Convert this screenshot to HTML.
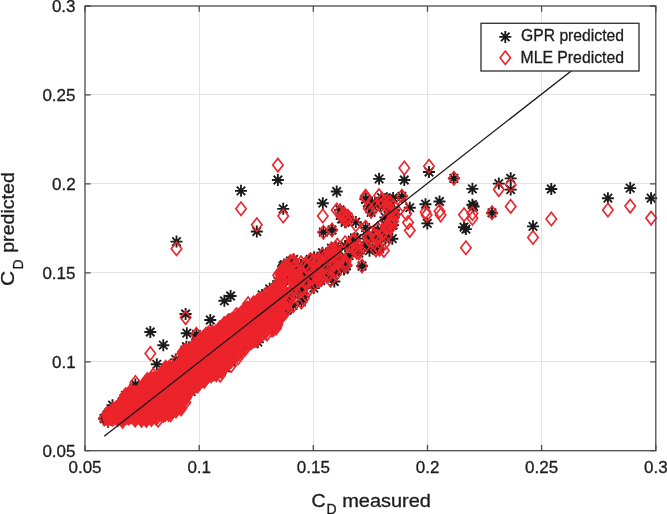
<!DOCTYPE html>
<html lang="en"><head><meta charset="utf-8"><title>CD predicted vs CD measured</title><style>html,body{margin:0;padding:0;background:#fff}body{width:667px;height:514px;overflow:hidden}</style></head><body>
<svg width="667" height="514" viewBox="0 0 667 514" style="display:block">
<defs>
<g id="s"><path d="M-6.0 0H6.0M0 -6.0V6.0M-4.24 -4.24L4.24 4.24M-4.24 4.24L4.24 -4.24" fill="none" stroke="#1a1a1a" stroke-width="1.85"/></g>
<path id="d" d="M0 -6.7L5.2 0L0 6.7L-5.2 0Z" fill="none" stroke="#ec242b" stroke-width="1.65" stroke-linejoin="miter"/>
<path id="e" d="M0 -6.7L5.2 0L0 6.7L-5.2 0Z" fill="#ec242b" stroke="#ec242b" stroke-width="1.5" stroke-linejoin="miter"/>
</defs>
<rect width="667" height="514" fill="#fff"/>
<path d="M199.5 6.0V450.7" stroke="#e3e3e3" stroke-width="1"/>
<path d="M85.0 361.5H655.8" stroke="#e3e3e3" stroke-width="1"/>
<path d="M313.5 6.0V450.7" stroke="#e3e3e3" stroke-width="1"/>
<path d="M85.0 272.5H655.8" stroke="#e3e3e3" stroke-width="1"/>
<path d="M427.5 6.0V450.7" stroke="#e3e3e3" stroke-width="1"/>
<path d="M85.0 183.5H655.8" stroke="#e3e3e3" stroke-width="1"/>
<path d="M541.5 6.0V450.7" stroke="#e3e3e3" stroke-width="1"/>
<path d="M85.0 94.5H655.8" stroke="#e3e3e3" stroke-width="1"/>
<g>
<use href="#s" x="156.1" y="386.2"/>
<use href="#s" x="193.9" y="363.1"/>
<use href="#s" x="114.7" y="415.2"/>
<use href="#s" x="116.2" y="410.7"/>
<use href="#s" x="173.7" y="400.3"/>
<use href="#s" x="211.0" y="369.2"/>
<use href="#s" x="201.5" y="356.6"/>
<use href="#s" x="255.7" y="313.8"/>
<use href="#s" x="127.0" y="399.2"/>
<use href="#s" x="132.6" y="409.5"/>
<use href="#s" x="213.1" y="348.5"/>
<use href="#s" x="114.9" y="411.8"/>
<use href="#s" x="221.0" y="345.7"/>
<use href="#s" x="178.8" y="378.9"/>
<use href="#s" x="243.1" y="335.5"/>
<use href="#s" x="191.9" y="381.4"/>
<use href="#s" x="230.4" y="335.0"/>
<use href="#s" x="172.6" y="397.8"/>
<use href="#s" x="128.2" y="408.6"/>
<use href="#s" x="237.3" y="338.2"/>
<use href="#s" x="259.0" y="312.0"/>
<use href="#s" x="202.1" y="355.7"/>
<use href="#s" x="252.0" y="333.0"/>
<use href="#s" x="115.0" y="414.9"/>
<use href="#s" x="214.7" y="367.9"/>
<use href="#s" x="166.9" y="396.4"/>
<use href="#s" x="110.2" y="415.5"/>
<use href="#s" x="114.8" y="415.6"/>
<use href="#s" x="124.7" y="401.6"/>
<use href="#s" x="117.7" y="413.8"/>
<use href="#s" x="196.4" y="377.9"/>
<use href="#s" x="148.5" y="393.9"/>
<use href="#s" x="162.1" y="407.0"/>
<use href="#s" x="131.9" y="400.7"/>
<use href="#s" x="141.0" y="402.6"/>
<use href="#s" x="108.3" y="415.0"/>
<use href="#s" x="164.0" y="397.7"/>
<use href="#s" x="190.1" y="372.7"/>
<use href="#s" x="220.2" y="337.9"/>
<use href="#s" x="258.8" y="324.7"/>
<use href="#s" x="168.0" y="389.5"/>
<use href="#s" x="115.2" y="412.2"/>
<use href="#s" x="137.0" y="397.7"/>
<use href="#s" x="108.0" y="415.4"/>
<use href="#s" x="120.7" y="412.5"/>
<use href="#s" x="208.5" y="344.1"/>
<use href="#s" x="144.1" y="398.3"/>
<use href="#s" x="253.8" y="335.9"/>
<use href="#s" x="181.1" y="381.2"/>
<use href="#s" x="159.4" y="388.7"/>
<use href="#s" x="249.8" y="317.4"/>
<use href="#s" x="192.5" y="358.9"/>
<use href="#s" x="195.2" y="348.7"/>
<use href="#s" x="256.6" y="324.1"/>
<use href="#s" x="145.6" y="398.9"/>
<use href="#s" x="193.3" y="378.0"/>
<use href="#s" x="157.1" y="389.7"/>
<use href="#s" x="254.5" y="325.4"/>
<use href="#s" x="247.8" y="331.6"/>
<use href="#s" x="161.6" y="381.9"/>
<use href="#s" x="110.9" y="414.2"/>
<use href="#s" x="275.2" y="307.2"/>
<use href="#s" x="271.3" y="324.5"/>
<use href="#s" x="138.9" y="398.6"/>
<use href="#s" x="135.1" y="397.1"/>
<use href="#s" x="252.1" y="319.3"/>
<use href="#s" x="215.8" y="362.7"/>
<use href="#s" x="265.9" y="322.7"/>
<use href="#s" x="234.5" y="337.9"/>
<use href="#s" x="157.6" y="408.1"/>
<use href="#s" x="278.3" y="293.4"/>
<use href="#s" x="229.6" y="333.2"/>
<use href="#s" x="124.4" y="405.1"/>
<use href="#s" x="127.3" y="411.0"/>
<use href="#s" x="280.0" y="299.8"/>
<use href="#s" x="125.0" y="401.4"/>
<use href="#s" x="278.1" y="301.8"/>
<use href="#s" x="175.4" y="399.3"/>
<use href="#s" x="249.3" y="315.5"/>
<use href="#s" x="142.2" y="406.5"/>
<use href="#s" x="145.3" y="401.4"/>
<use href="#s" x="161.3" y="395.8"/>
<use href="#s" x="202.7" y="368.4"/>
<use href="#s" x="187.6" y="374.4"/>
<use href="#s" x="191.6" y="354.4"/>
<use href="#s" x="108.3" y="417.0"/>
<use href="#s" x="131.3" y="405.1"/>
<use href="#s" x="156.5" y="395.7"/>
<use href="#s" x="197.5" y="374.1"/>
<use href="#s" x="143.5" y="398.8"/>
<use href="#s" x="238.7" y="332.5"/>
<use href="#s" x="266.4" y="311.4"/>
<use href="#s" x="208.2" y="353.1"/>
<use href="#s" x="178.7" y="385.1"/>
<use href="#s" x="183.3" y="394.3"/>
<use href="#s" x="272.3" y="299.2"/>
<use href="#s" x="198.3" y="377.3"/>
<use href="#s" x="123.6" y="407.4"/>
<use href="#s" x="116.6" y="413.0"/>
<use href="#s" x="241.0" y="345.1"/>
<use href="#s" x="128.5" y="409.8"/>
<use href="#s" x="260.5" y="329.3"/>
<use href="#s" x="138.8" y="411.7"/>
<use href="#s" x="282.0" y="304.3"/>
<use href="#s" x="129.6" y="403.7"/>
<use href="#s" x="135.0" y="401.4"/>
<use href="#s" x="229.0" y="325.3"/>
<use href="#s" x="109.7" y="414.3"/>
<use href="#s" x="210.3" y="358.6"/>
<use href="#s" x="241.9" y="346.7"/>
<use href="#s" x="121.1" y="410.5"/>
<use href="#s" x="147.1" y="391.0"/>
<use href="#s" x="173.3" y="403.1"/>
<use href="#s" x="127.8" y="413.0"/>
<use href="#s" x="200.3" y="367.3"/>
<use href="#s" x="222.5" y="344.6"/>
<use href="#s" x="116.6" y="414.0"/>
<use href="#s" x="118.2" y="413.0"/>
<use href="#s" x="115.8" y="414.1"/>
<use href="#s" x="197.1" y="377.7"/>
<use href="#s" x="146.7" y="389.6"/>
<use href="#s" x="121.8" y="405.8"/>
<use href="#s" x="113.7" y="412.2"/>
<use href="#s" x="236.3" y="331.5"/>
<use href="#s" x="187.3" y="361.6"/>
<use href="#s" x="143.8" y="391.5"/>
<use href="#s" x="231.2" y="341.9"/>
<use href="#s" x="270.8" y="301.0"/>
<use href="#s" x="247.9" y="319.8"/>
<use href="#s" x="168.1" y="391.5"/>
<use href="#s" x="222.4" y="360.1"/>
<use href="#s" x="226.1" y="349.0"/>
<use href="#s" x="170.2" y="386.0"/>
<use href="#s" x="116.4" y="414.7"/>
<use href="#s" x="144.7" y="396.1"/>
<use href="#s" x="258.1" y="324.6"/>
<use href="#s" x="149.0" y="391.1"/>
<use href="#s" x="129.0" y="407.0"/>
<use href="#s" x="145.9" y="414.2"/>
<use href="#s" x="142.8" y="413.2"/>
<use href="#s" x="153.7" y="394.9"/>
<use href="#s" x="182.7" y="379.2"/>
<use href="#s" x="135.8" y="406.0"/>
<use href="#s" x="119.0" y="410.9"/>
<use href="#s" x="112.6" y="412.2"/>
<use href="#s" x="203.1" y="360.0"/>
<use href="#s" x="234.5" y="341.0"/>
<use href="#s" x="167.5" y="382.6"/>
<use href="#s" x="280.9" y="282.5"/>
<use href="#s" x="112.8" y="413.6"/>
<use href="#s" x="262.3" y="319.5"/>
<use href="#s" x="126.2" y="404.7"/>
<use href="#s" x="188.1" y="382.4"/>
<use href="#s" x="202.8" y="368.2"/>
<use href="#s" x="221.5" y="354.1"/>
<use href="#s" x="125.3" y="405.6"/>
<use href="#s" x="121.2" y="412.3"/>
<use href="#s" x="210.7" y="359.2"/>
<use href="#s" x="185.4" y="357.9"/>
<use href="#s" x="187.9" y="370.2"/>
<use href="#s" x="217.0" y="338.1"/>
<use href="#s" x="116.9" y="409.9"/>
<use href="#s" x="230.4" y="331.7"/>
<use href="#s" x="186.2" y="365.5"/>
<use href="#s" x="183.5" y="385.3"/>
<use href="#s" x="213.9" y="337.6"/>
<use href="#s" x="127.5" y="402.4"/>
<use href="#s" x="199.8" y="344.2"/>
<use href="#s" x="115.0" y="411.1"/>
<use href="#s" x="220.1" y="341.0"/>
<use href="#s" x="190.3" y="368.0"/>
<use href="#s" x="262.7" y="308.5"/>
<use href="#s" x="279.6" y="312.8"/>
<use href="#s" x="248.1" y="337.7"/>
<use href="#s" x="178.2" y="377.7"/>
<use href="#s" x="137.4" y="409.4"/>
<use href="#s" x="126.6" y="408.2"/>
<use href="#s" x="248.1" y="324.4"/>
<use href="#s" x="261.3" y="322.7"/>
<use href="#s" x="184.8" y="361.8"/>
<use href="#s" x="108.3" y="414.6"/>
<use href="#s" x="126.5" y="404.7"/>
<use href="#s" x="154.8" y="410.0"/>
<use href="#s" x="251.8" y="311.3"/>
<use href="#s" x="269.2" y="318.2"/>
<use href="#s" x="164.5" y="388.9"/>
<use href="#s" x="283.8" y="292.1"/>
<use href="#s" x="147.9" y="388.7"/>
<use href="#s" x="120.7" y="413.6"/>
<use href="#s" x="143.6" y="400.7"/>
<use href="#s" x="189.3" y="358.5"/>
<use href="#s" x="260.8" y="328.2"/>
<use href="#s" x="211.6" y="368.7"/>
<use href="#s" x="228.5" y="327.0"/>
<use href="#s" x="231.0" y="338.6"/>
<use href="#s" x="149.8" y="383.6"/>
<use href="#s" x="269.3" y="300.2"/>
<use href="#s" x="151.7" y="404.6"/>
<use href="#s" x="279.2" y="288.2"/>
<use href="#s" x="197.9" y="359.0"/>
<use href="#s" x="130.5" y="400.9"/>
<use href="#s" x="186.8" y="366.7"/>
<use href="#s" x="265.2" y="326.8"/>
<use href="#s" x="134.4" y="397.8"/>
<use href="#s" x="159.2" y="383.1"/>
<use href="#s" x="200.1" y="374.1"/>
<use href="#s" x="234.4" y="333.5"/>
<use href="#s" x="165.3" y="388.3"/>
<use href="#s" x="115.2" y="412.9"/>
<use href="#s" x="187.9" y="375.3"/>
<use href="#s" x="256.5" y="311.1"/>
<use href="#s" x="169.3" y="390.1"/>
<use href="#s" x="274.7" y="317.5"/>
<use href="#s" x="111.4" y="415.5"/>
<use href="#s" x="263.1" y="315.4"/>
<use href="#s" x="167.9" y="405.9"/>
<use href="#s" x="249.2" y="335.0"/>
<use href="#s" x="121.8" y="405.8"/>
<use href="#s" x="191.4" y="376.6"/>
<use href="#s" x="214.7" y="359.5"/>
<use href="#s" x="179.6" y="387.5"/>
<use href="#s" x="140.9" y="413.3"/>
<use href="#s" x="214.4" y="347.2"/>
<use href="#s" x="212.6" y="360.3"/>
<use href="#s" x="122.2" y="402.4"/>
<use href="#s" x="167.3" y="382.0"/>
<use href="#s" x="206.0" y="339.8"/>
<use href="#s" x="275.7" y="312.1"/>
<use href="#s" x="260.7" y="316.6"/>
<use href="#s" x="276.1" y="313.1"/>
<use href="#s" x="153.3" y="381.6"/>
<use href="#s" x="172.9" y="381.1"/>
<use href="#s" x="218.5" y="363.2"/>
<use href="#s" x="158.6" y="393.9"/>
<use href="#s" x="221.4" y="340.0"/>
<use href="#s" x="188.2" y="359.7"/>
<use href="#s" x="277.9" y="295.1"/>
<use href="#s" x="139.1" y="408.4"/>
<use href="#s" x="151.2" y="409.3"/>
<use href="#s" x="139.4" y="402.8"/>
<use href="#s" x="218.1" y="365.0"/>
<use href="#s" x="137.7" y="414.6"/>
<use href="#s" x="126.6" y="400.5"/>
<use href="#s" x="263.6" y="326.5"/>
<use href="#s" x="231.1" y="354.7"/>
<use href="#s" x="133.4" y="412.6"/>
<use href="#s" x="233.7" y="324.3"/>
<use href="#s" x="164.8" y="386.2"/>
<use href="#s" x="130.8" y="397.0"/>
<use href="#s" x="275.0" y="296.8"/>
<use href="#s" x="276.8" y="293.1"/>
<use href="#s" x="248.5" y="324.4"/>
<use href="#s" x="113.5" y="411.6"/>
<use href="#s" x="134.5" y="405.0"/>
<use href="#s" x="263.3" y="301.3"/>
<use href="#s" x="237.7" y="323.6"/>
<use href="#s" x="111.7" y="414.2"/>
<use href="#s" x="233.9" y="348.0"/>
<use href="#s" x="158.7" y="390.9"/>
<use href="#s" x="145.7" y="405.7"/>
<use href="#s" x="154.9" y="393.3"/>
<use href="#s" x="267.2" y="316.8"/>
<use href="#s" x="272.6" y="295.5"/>
<use href="#s" x="275.3" y="321.8"/>
<use href="#s" x="167.0" y="381.8"/>
<use href="#s" x="269.5" y="303.6"/>
<use href="#s" x="244.7" y="335.4"/>
<use href="#s" x="207.2" y="347.7"/>
<use href="#s" x="155.4" y="393.3"/>
<use href="#s" x="135.2" y="408.9"/>
<use href="#s" x="143.3" y="394.7"/>
<use href="#s" x="156.5" y="412.1"/>
<use href="#s" x="260.6" y="330.4"/>
<use href="#s" x="119.9" y="412.0"/>
<use href="#s" x="226.7" y="340.5"/>
<use href="#s" x="209.6" y="361.8"/>
<use href="#s" x="234.0" y="346.7"/>
<use href="#s" x="252.2" y="315.4"/>
<use href="#s" x="199.6" y="357.1"/>
<use href="#s" x="143.3" y="396.0"/>
<use href="#s" x="128.4" y="412.1"/>
<use href="#s" x="168.7" y="407.3"/>
<use href="#s" x="188.6" y="363.5"/>
<use href="#s" x="282.2" y="278.0"/>
<use href="#s" x="182.7" y="393.0"/>
<use href="#s" x="112.4" y="410.9"/>
<use href="#s" x="123.3" y="406.7"/>
<use href="#s" x="269.9" y="307.2"/>
<use href="#s" x="257.2" y="317.3"/>
<use href="#s" x="273.1" y="299.7"/>
<use href="#s" x="205.1" y="360.8"/>
<use href="#s" x="126.6" y="403.2"/>
<use href="#s" x="144.5" y="403.7"/>
<use href="#s" x="109.0" y="414.3"/>
<use href="#s" x="220.6" y="339.1"/>
<use href="#s" x="243.2" y="331.7"/>
<use href="#s" x="115.4" y="409.5"/>
<use href="#s" x="213.2" y="341.4"/>
<use href="#s" x="130.0" y="408.5"/>
<use href="#s" x="153.4" y="411.3"/>
<use href="#s" x="154.2" y="398.5"/>
<use href="#s" x="256.8" y="334.4"/>
<use href="#s" x="163.0" y="384.2"/>
<use href="#s" x="108.5" y="415.9"/>
<use href="#s" x="173.6" y="396.8"/>
<use href="#s" x="180.2" y="372.1"/>
<use href="#s" x="109.4" y="413.6"/>
<use href="#s" x="118.9" y="410.3"/>
<use href="#s" x="164.2" y="394.1"/>
<use href="#s" x="191.2" y="382.5"/>
<use href="#s" x="121.7" y="411.4"/>
<use href="#s" x="135.2" y="394.3"/>
<use href="#s" x="272.5" y="321.7"/>
<use href="#s" x="269.1" y="308.7"/>
<use href="#s" x="264.8" y="318.6"/>
<use href="#s" x="241.4" y="322.8"/>
<use href="#s" x="170.2" y="402.6"/>
<use href="#s" x="138.6" y="401.5"/>
<use href="#s" x="190.6" y="367.1"/>
<use href="#s" x="229.6" y="352.4"/>
<use href="#s" x="112.5" y="414.8"/>
<use href="#s" x="251.7" y="310.9"/>
<use href="#s" x="205.7" y="357.1"/>
<use href="#s" x="172.9" y="391.0"/>
<use href="#s" x="173.9" y="392.4"/>
<use href="#s" x="110.3" y="416.2"/>
<use href="#s" x="185.4" y="365.7"/>
<use href="#s" x="179.8" y="369.1"/>
<use href="#s" x="182.4" y="365.8"/>
<use href="#s" x="119.3" y="412.3"/>
<use href="#s" x="189.2" y="356.3"/>
<use href="#s" x="231.2" y="346.9"/>
<use href="#s" x="189.4" y="355.6"/>
<use href="#s" x="274.1" y="296.8"/>
<use href="#s" x="255.4" y="333.9"/>
<use href="#s" x="134.7" y="411.1"/>
<use href="#s" x="185.8" y="391.1"/>
<use href="#s" x="241.9" y="343.4"/>
<use href="#s" x="115.7" y="412.3"/>
<use href="#s" x="263.2" y="309.2"/>
<use href="#s" x="247.2" y="311.6"/>
<use href="#s" x="137.0" y="399.9"/>
<use href="#s" x="188.4" y="366.4"/>
<use href="#s" x="129.6" y="414.1"/>
<use href="#s" x="220.9" y="361.9"/>
<use href="#s" x="122.6" y="412.3"/>
<use href="#s" x="212.6" y="350.1"/>
<use href="#s" x="202.1" y="369.8"/>
<use href="#s" x="121.1" y="415.0"/>
<use href="#s" x="243.7" y="320.9"/>
<use href="#s" x="282.1" y="293.4"/>
<use href="#s" x="176.9" y="377.4"/>
<use href="#s" x="233.2" y="326.4"/>
<use href="#s" x="213.2" y="367.1"/>
<use href="#s" x="203.2" y="363.2"/>
<use href="#s" x="111.6" y="413.7"/>
<use href="#s" x="208.8" y="349.5"/>
<use href="#s" x="125.1" y="402.9"/>
<use href="#s" x="215.8" y="338.9"/>
<use href="#s" x="121.4" y="408.8"/>
<use href="#s" x="139.5" y="405.1"/>
<use href="#s" x="210.3" y="352.9"/>
<use href="#s" x="125.6" y="414.9"/>
<use href="#s" x="119.9" y="413.6"/>
<use href="#s" x="258.2" y="325.2"/>
<use href="#s" x="109.0" y="416.7"/>
<use href="#s" x="198.8" y="356.6"/>
<use href="#s" x="271.3" y="314.9"/>
<use href="#s" x="143.5" y="413.9"/>
<use href="#s" x="170.4" y="381.9"/>
<use href="#s" x="114.7" y="417.0"/>
<use href="#s" x="272.1" y="299.3"/>
<use href="#s" x="135.6" y="404.6"/>
<use href="#s" x="246.8" y="316.0"/>
<use href="#s" x="153.7" y="394.8"/>
<use href="#s" x="240.8" y="339.9"/>
<use href="#s" x="108.5" y="416.7"/>
<use href="#s" x="232.8" y="335.6"/>
<use href="#s" x="139.8" y="396.7"/>
<use href="#s" x="158.1" y="404.3"/>
<use href="#s" x="223.8" y="355.1"/>
<use href="#s" x="197.2" y="361.1"/>
<use href="#s" x="241.9" y="331.6"/>
<use href="#s" x="277.0" y="296.7"/>
<use href="#s" x="259.9" y="304.1"/>
<use href="#s" x="233.2" y="351.5"/>
<use href="#s" x="233.7" y="334.1"/>
<use href="#s" x="142.0" y="411.4"/>
<use href="#s" x="211.6" y="357.7"/>
<use href="#s" x="181.8" y="389.3"/>
<use href="#s" x="224.3" y="352.9"/>
<use href="#s" x="200.3" y="355.3"/>
<use href="#s" x="137.6" y="409.6"/>
<use href="#s" x="127.0" y="400.1"/>
<use href="#s" x="121.4" y="414.9"/>
<use href="#s" x="111.0" y="414.2"/>
<use href="#s" x="223.4" y="348.6"/>
<use href="#s" x="115.7" y="411.4"/>
<use href="#s" x="162.9" y="405.1"/>
<use href="#s" x="115.7" y="412.5"/>
<use href="#s" x="266.8" y="325.9"/>
<use href="#s" x="122.2" y="404.6"/>
<use href="#s" x="253.5" y="328.4"/>
<use href="#s" x="211.7" y="344.7"/>
<use href="#s" x="120.4" y="407.0"/>
<use href="#s" x="155.3" y="394.1"/>
<use href="#s" x="110.1" y="414.1"/>
<use href="#s" x="163.8" y="390.1"/>
<use href="#s" x="276.7" y="305.6"/>
<use href="#s" x="111.2" y="413.0"/>
<use href="#s" x="175.8" y="395.0"/>
<use href="#s" x="194.3" y="360.9"/>
<use href="#s" x="256.4" y="308.1"/>
<use href="#s" x="108.1" y="414.3"/>
<use href="#s" x="236.8" y="351.2"/>
<use href="#s" x="185.8" y="384.9"/>
<use href="#s" x="133.2" y="403.6"/>
<use href="#s" x="145.5" y="414.4"/>
<use href="#s" x="149.3" y="390.0"/>
<use href="#s" x="121.9" y="410.1"/>
<use href="#s" x="117.8" y="413.7"/>
<use href="#s" x="211.1" y="346.7"/>
<use href="#s" x="169.6" y="387.6"/>
<use href="#s" x="261.6" y="303.6"/>
<use href="#s" x="136.6" y="401.5"/>
<use href="#s" x="165.7" y="404.1"/>
<use href="#s" x="141.1" y="400.6"/>
<use href="#s" x="235.0" y="340.6"/>
<use href="#s" x="160.4" y="391.4"/>
<use href="#s" x="217.5" y="360.6"/>
<use href="#s" x="130.9" y="405.1"/>
<use href="#s" x="124.3" y="405.8"/>
<use href="#s" x="261.0" y="310.4"/>
<use href="#s" x="225.4" y="354.8"/>
<use href="#s" x="128.6" y="400.5"/>
<use href="#s" x="191.4" y="360.8"/>
<use href="#s" x="156.9" y="389.6"/>
<use href="#s" x="120.7" y="415.4"/>
<use href="#s" x="120.7" y="412.3"/>
<use href="#s" x="231.2" y="337.8"/>
<use href="#s" x="135.0" y="408.2"/>
<use href="#s" x="167.3" y="376.5"/>
<use href="#s" x="169.2" y="400.2"/>
<use href="#s" x="211.9" y="350.7"/>
<use href="#s" x="126.6" y="406.7"/>
<use href="#s" x="265.5" y="314.1"/>
<use href="#s" x="200.9" y="366.9"/>
<use href="#s" x="229.1" y="351.9"/>
<use href="#s" x="239.1" y="341.7"/>
<use href="#s" x="213.6" y="349.5"/>
<use href="#s" x="154.3" y="402.6"/>
<use href="#s" x="240.7" y="340.0"/>
<use href="#s" x="211.4" y="344.3"/>
<use href="#s" x="209.9" y="352.2"/>
<use href="#s" x="220.0" y="363.2"/>
<use href="#s" x="239.9" y="332.6"/>
<use href="#s" x="185.5" y="393.6"/>
<use href="#s" x="129.5" y="411.6"/>
<use href="#s" x="272.0" y="311.3"/>
<use href="#s" x="194.8" y="374.2"/>
<use href="#s" x="189.5" y="375.3"/>
<use href="#s" x="171.2" y="403.4"/>
<use href="#s" x="137.3" y="405.9"/>
<use href="#s" x="123.7" y="417.5"/>
<use href="#s" x="161.6" y="380.7"/>
<use href="#s" x="109.2" y="416.8"/>
<use href="#s" x="173.0" y="395.0"/>
<use href="#s" x="139.6" y="410.0"/>
<use href="#s" x="271.9" y="310.5"/>
<use href="#s" x="167.9" y="384.1"/>
<use href="#s" x="124.7" y="413.2"/>
<use href="#s" x="181.7" y="380.7"/>
<use href="#s" x="139.8" y="412.2"/>
<use href="#s" x="247.8" y="335.1"/>
<use href="#s" x="181.5" y="372.4"/>
<use href="#s" x="250.8" y="318.5"/>
<use href="#s" x="254.1" y="313.3"/>
<use href="#s" x="174.0" y="379.1"/>
<use href="#s" x="108.2" y="416.3"/>
<use href="#s" x="152.4" y="398.2"/>
<use href="#s" x="174.4" y="392.1"/>
<use href="#s" x="269.7" y="319.4"/>
<use href="#s" x="114.5" y="417.5"/>
<use href="#s" x="126.4" y="411.4"/>
<use href="#s" x="212.1" y="341.7"/>
<use href="#s" x="216.4" y="344.3"/>
<use href="#s" x="120.7" y="407.4"/>
<use href="#s" x="160.0" y="387.2"/>
<use href="#s" x="264.7" y="324.2"/>
<use href="#s" x="207.4" y="367.5"/>
<use href="#s" x="218.8" y="362.8"/>
<use href="#s" x="135.2" y="405.6"/>
<use href="#s" x="193.0" y="372.1"/>
<use href="#s" x="197.4" y="357.8"/>
<use href="#s" x="141.2" y="395.9"/>
<use href="#s" x="181.3" y="367.9"/>
<use href="#s" x="185.7" y="371.4"/>
<use href="#s" x="108.5" y="416.0"/>
<use href="#s" x="181.5" y="381.6"/>
<use href="#s" x="165.0" y="387.7"/>
<use href="#s" x="276.1" y="291.4"/>
<use href="#s" x="110.9" y="413.8"/>
<use href="#s" x="221.4" y="359.2"/>
<use href="#s" x="189.3" y="373.7"/>
<use href="#s" x="263.4" y="303.3"/>
<use href="#s" x="158.7" y="405.1"/>
<use href="#s" x="163.4" y="390.3"/>
<use href="#s" x="137.4" y="402.7"/>
<use href="#s" x="173.3" y="391.3"/>
<use href="#s" x="249.6" y="319.7"/>
<use href="#s" x="188.0" y="360.2"/>
<use href="#s" x="216.1" y="360.3"/>
<use href="#s" x="157.3" y="390.3"/>
<use href="#s" x="212.4" y="364.2"/>
<use href="#s" x="112.4" y="416.9"/>
<use href="#s" x="113.6" y="411.9"/>
<use href="#s" x="108.5" y="416.7"/>
<use href="#s" x="216.8" y="359.0"/>
<use href="#s" x="265.9" y="315.6"/>
<use href="#s" x="224.1" y="345.7"/>
<use href="#s" x="221.1" y="339.1"/>
<use href="#s" x="236.9" y="323.0"/>
<use href="#s" x="132.7" y="397.8"/>
<use href="#s" x="216.3" y="344.4"/>
<use href="#s" x="248.6" y="331.1"/>
<use href="#s" x="152.4" y="395.0"/>
<use href="#s" x="155.2" y="393.1"/>
<use href="#s" x="114.2" y="411.4"/>
<use href="#s" x="112.3" y="413.8"/>
<use href="#s" x="267.6" y="309.6"/>
<use href="#s" x="109.3" y="412.2"/>
<use href="#s" x="280.1" y="292.7"/>
<use href="#s" x="171.6" y="375.8"/>
<use href="#s" x="128.1" y="397.3"/>
<use href="#s" x="108.4" y="419.1"/>
<use href="#s" x="118.8" y="417.7"/>
<use href="#s" x="124.7" y="400.1"/>
<use href="#s" x="231.2" y="330.2"/>
<use href="#s" x="113.6" y="414.6"/>
<use href="#s" x="230.5" y="325.7"/>
<use href="#s" x="211.2" y="357.2"/>
<use href="#s" x="144.4" y="414.1"/>
<use href="#s" x="228.1" y="328.7"/>
<use href="#s" x="247.6" y="313.1"/>
<use href="#s" x="154.0" y="405.7"/>
<use href="#s" x="184.8" y="362.4"/>
<use href="#s" x="163.7" y="393.8"/>
<use href="#s" x="127.1" y="412.9"/>
<use href="#s" x="162.9" y="397.3"/>
<use href="#s" x="166.9" y="400.3"/>
<use href="#s" x="272.9" y="315.4"/>
<use href="#s" x="115.0" y="415.6"/>
<use href="#s" x="225.4" y="352.1"/>
<use href="#s" x="279.4" y="309.6"/>
<use href="#s" x="206.0" y="347.2"/>
<use href="#s" x="165.3" y="400.1"/>
<use href="#s" x="206.1" y="369.4"/>
<use href="#s" x="108.1" y="414.1"/>
<use href="#s" x="173.3" y="393.1"/>
<use href="#s" x="112.6" y="412.9"/>
<use href="#s" x="246.5" y="334.6"/>
<use href="#s" x="254.2" y="329.1"/>
<use href="#s" x="221.8" y="359.9"/>
<use href="#s" x="197.2" y="373.8"/>
<use href="#s" x="135.7" y="410.4"/>
<use href="#s" x="207.1" y="361.0"/>
<use href="#s" x="181.0" y="370.6"/>
<use href="#s" x="242.5" y="331.7"/>
<use href="#s" x="118.7" y="414.7"/>
<use href="#s" x="202.0" y="370.6"/>
<use href="#s" x="261.0" y="315.6"/>
<use href="#s" x="133.9" y="399.9"/>
<use href="#s" x="132.6" y="407.8"/>
<use href="#s" x="169.8" y="392.6"/>
<use href="#s" x="127.7" y="400.2"/>
<use href="#s" x="121.3" y="411.9"/>
<use href="#s" x="241.7" y="320.2"/>
<use href="#s" x="190.9" y="354.8"/>
<use href="#s" x="111.6" y="417.8"/>
<use href="#s" x="199.7" y="352.3"/>
<use href="#s" x="240.1" y="333.9"/>
<use href="#s" x="247.9" y="336.7"/>
<use href="#s" x="144.4" y="391.2"/>
<use href="#s" x="118.1" y="409.4"/>
<use href="#s" x="197.9" y="371.5"/>
<use href="#s" x="265.9" y="304.0"/>
<use href="#s" x="205.4" y="355.9"/>
<use href="#s" x="144.9" y="405.7"/>
<use href="#s" x="213.5" y="366.3"/>
<use href="#s" x="178.0" y="372.1"/>
<use href="#s" x="277.1" y="319.1"/>
<use href="#s" x="144.7" y="398.5"/>
<use href="#s" x="264.5" y="326.0"/>
<use href="#s" x="241.5" y="337.5"/>
<use href="#s" x="214.6" y="368.0"/>
<use href="#s" x="235.4" y="349.3"/>
<use href="#s" x="220.4" y="340.9"/>
<use href="#s" x="121.2" y="407.1"/>
<use href="#s" x="144.9" y="391.4"/>
<use href="#s" x="141.8" y="396.0"/>
<use href="#s" x="220.5" y="334.2"/>
<use href="#s" x="111.8" y="415.4"/>
<use href="#s" x="138.9" y="414.8"/>
<use href="#s" x="126.3" y="403.8"/>
<use href="#s" x="120.0" y="416.6"/>
<use href="#s" x="178.7" y="376.9"/>
<use href="#s" x="248.7" y="322.8"/>
<use href="#s" x="139.1" y="395.1"/>
<use href="#s" x="227.4" y="344.8"/>
<use href="#s" x="146.4" y="400.5"/>
<use href="#s" x="128.7" y="403.2"/>
<use href="#s" x="130.6" y="404.7"/>
<use href="#s" x="155.1" y="412.6"/>
<use href="#s" x="114.5" y="418.4"/>
<use href="#s" x="218.7" y="340.3"/>
<use href="#s" x="145.0" y="394.2"/>
<use href="#s" x="163.1" y="412.6"/>
<use href="#s" x="120.1" y="409.2"/>
<use href="#s" x="263.2" y="304.2"/>
<use href="#s" x="279.7" y="278.3"/>
<use href="#s" x="245.5" y="322.0"/>
<use href="#s" x="250.5" y="323.9"/>
<use href="#s" x="133.4" y="405.0"/>
<use href="#s" x="200.5" y="348.3"/>
<use href="#s" x="132.5" y="410.1"/>
<use href="#s" x="117.5" y="408.3"/>
<use href="#s" x="207.4" y="355.3"/>
<use href="#s" x="208.1" y="363.0"/>
<use href="#s" x="246.4" y="327.9"/>
<use href="#s" x="231.1" y="337.9"/>
<use href="#s" x="228.9" y="328.3"/>
<use href="#s" x="252.4" y="331.3"/>
<use href="#s" x="186.0" y="358.4"/>
<use href="#s" x="258.4" y="310.7"/>
<use href="#s" x="133.4" y="410.6"/>
<use href="#s" x="164.3" y="396.9"/>
<use href="#s" x="108.4" y="414.2"/>
<use href="#s" x="123.5" y="412.7"/>
<use href="#s" x="247.4" y="334.0"/>
<use href="#s" x="166.1" y="402.7"/>
<use href="#s" x="115.1" y="417.2"/>
<use href="#s" x="189.7" y="370.6"/>
<use href="#s" x="194.2" y="354.5"/>
<use href="#s" x="132.9" y="398.2"/>
<use href="#s" x="143.8" y="410.7"/>
<use href="#s" x="224.6" y="334.2"/>
<use href="#s" x="109.7" y="414.1"/>
<use href="#s" x="225.3" y="330.0"/>
<use href="#s" x="257.9" y="325.3"/>
<use href="#s" x="186.1" y="374.0"/>
<use href="#s" x="148.7" y="388.0"/>
<use href="#s" x="204.3" y="369.1"/>
<use href="#s" x="127.4" y="408.0"/>
<use href="#s" x="249.3" y="335.3"/>
<use href="#s" x="167.4" y="389.9"/>
<use href="#s" x="168.6" y="404.6"/>
<use href="#s" x="239.7" y="329.4"/>
<use href="#s" x="175.7" y="404.6"/>
<use href="#s" x="245.0" y="339.8"/>
<use href="#s" x="114.1" y="411.3"/>
<use href="#s" x="275.5" y="319.4"/>
<use href="#s" x="212.0" y="350.8"/>
<use href="#s" x="193.0" y="354.2"/>
<use href="#s" x="110.1" y="414.9"/>
<use href="#s" x="277.9" y="312.0"/>
<use href="#s" x="246.0" y="335.7"/>
<use href="#s" x="260.9" y="303.7"/>
<use href="#s" x="220.7" y="341.2"/>
<use href="#s" x="195.1" y="378.0"/>
<use href="#s" x="191.0" y="366.7"/>
<use href="#s" x="274.1" y="300.5"/>
<use href="#s" x="123.4" y="412.4"/>
<use href="#s" x="275.1" y="306.8"/>
<use href="#s" x="193.5" y="359.3"/>
<use href="#s" x="123.9" y="402.7"/>
<use href="#s" x="150.1" y="392.2"/>
<use href="#s" x="118.7" y="413.4"/>
<use href="#s" x="200.2" y="363.6"/>
<use href="#s" x="135.8" y="406.8"/>
<use href="#s" x="208.2" y="354.6"/>
<use href="#s" x="153.9" y="390.4"/>
<use href="#s" x="166.4" y="396.7"/>
<use href="#s" x="109.1" y="415.9"/>
<use href="#s" x="197.7" y="362.4"/>
<use href="#s" x="149.5" y="410.5"/>
<use href="#s" x="129.2" y="401.2"/>
<use href="#s" x="258.2" y="317.9"/>
<use href="#s" x="176.4" y="395.1"/>
<use href="#s" x="121.8" y="409.2"/>
<use href="#s" x="128.6" y="403.0"/>
<use href="#s" x="161.0" y="398.0"/>
<use href="#s" x="248.3" y="322.8"/>
<use href="#s" x="232.2" y="345.7"/>
<use href="#s" x="241.2" y="336.5"/>
<use href="#s" x="266.8" y="303.9"/>
<use href="#s" x="237.5" y="337.8"/>
<use href="#s" x="186.9" y="386.7"/>
<use href="#s" x="241.0" y="342.8"/>
<use href="#s" x="207.2" y="350.2"/>
<use href="#s" x="229.2" y="335.1"/>
<use href="#s" x="167.7" y="392.3"/>
<use href="#s" x="241.6" y="342.7"/>
<use href="#s" x="187.2" y="371.0"/>
<use href="#s" x="127.1" y="409.3"/>
<use href="#s" x="202.4" y="346.8"/>
<use href="#s" x="252.7" y="331.0"/>
<use href="#s" x="275.7" y="294.3"/>
<use href="#s" x="109.0" y="415.8"/>
<use href="#s" x="199.3" y="363.9"/>
<use href="#s" x="194.4" y="380.2"/>
<use href="#s" x="190.5" y="369.6"/>
<use href="#s" x="162.0" y="395.9"/>
<use href="#s" x="160.8" y="407.9"/>
<use href="#s" x="120.3" y="408.2"/>
<use href="#s" x="169.5" y="390.0"/>
<use href="#s" x="276.8" y="302.2"/>
<use href="#s" x="176.5" y="392.2"/>
<use href="#s" x="192.8" y="377.1"/>
<use href="#s" x="131.0" y="405.5"/>
<use href="#s" x="189.6" y="358.3"/>
<use href="#s" x="262.8" y="323.2"/>
<use href="#s" x="261.6" y="310.5"/>
<use href="#s" x="128.8" y="401.0"/>
<use href="#s" x="133.8" y="399.4"/>
<use href="#s" x="211.5" y="354.2"/>
<use href="#s" x="212.7" y="342.6"/>
<use href="#s" x="171.4" y="398.7"/>
<use href="#s" x="108.3" y="417.5"/>
<use href="#s" x="252.4" y="324.0"/>
<use href="#s" x="186.9" y="373.6"/>
<use href="#s" x="146.4" y="399.1"/>
<use href="#s" x="201.0" y="356.0"/>
<use href="#s" x="123.6" y="403.9"/>
<use href="#s" x="120.5" y="406.9"/>
<use href="#s" x="191.4" y="376.3"/>
<use href="#s" x="115.2" y="408.9"/>
<use href="#s" x="238.4" y="329.4"/>
<use href="#s" x="130.8" y="400.5"/>
<use href="#s" x="120.4" y="414.0"/>
<use href="#s" x="178.2" y="380.1"/>
<use href="#s" x="114.2" y="412.4"/>
<use href="#s" x="176.4" y="388.9"/>
<use href="#s" x="143.6" y="394.8"/>
<use href="#s" x="154.6" y="408.0"/>
<use href="#s" x="247.3" y="316.4"/>
<use href="#s" x="186.5" y="386.3"/>
<use href="#s" x="142.6" y="400.5"/>
<use href="#s" x="153.6" y="407.4"/>
<use href="#s" x="184.5" y="387.3"/>
<use href="#s" x="162.1" y="385.6"/>
<use href="#s" x="278.3" y="292.3"/>
<use href="#s" x="193.5" y="364.2"/>
<use href="#s" x="169.9" y="377.8"/>
<use href="#s" x="160.8" y="389.0"/>
<use href="#s" x="134.3" y="401.2"/>
<use href="#s" x="218.0" y="346.3"/>
<use href="#s" x="128.8" y="411.0"/>
<use href="#s" x="251.0" y="312.7"/>
<use href="#s" x="177.1" y="397.6"/>
<use href="#s" x="161.1" y="400.8"/>
<use href="#s" x="165.3" y="408.6"/>
<use href="#s" x="188.2" y="366.3"/>
<use href="#s" x="178.7" y="371.0"/>
<use href="#s" x="263.8" y="316.9"/>
<use href="#s" x="163.7" y="384.6"/>
<use href="#s" x="258.4" y="307.0"/>
<use href="#s" x="189.7" y="371.1"/>
<use href="#s" x="166.7" y="399.8"/>
<use href="#s" x="199.8" y="354.5"/>
<use href="#s" x="132.0" y="412.2"/>
<use href="#s" x="155.6" y="403.7"/>
<use href="#s" x="162.6" y="395.3"/>
<use href="#s" x="151.6" y="385.1"/>
<use href="#s" x="124.3" y="412.7"/>
<use href="#s" x="149.1" y="398.0"/>
<use href="#s" x="260.5" y="325.7"/>
<use href="#s" x="125.2" y="406.2"/>
<use href="#s" x="217.8" y="346.7"/>
<use href="#s" x="171.6" y="394.7"/>
<use href="#s" x="253.3" y="316.0"/>
<use href="#s" x="211.2" y="346.0"/>
<use href="#s" x="231.3" y="347.7"/>
<use href="#s" x="112.4" y="413.2"/>
<use href="#s" x="152.6" y="395.1"/>
<use href="#s" x="112.2" y="413.2"/>
<use href="#s" x="251.9" y="323.6"/>
<use href="#s" x="228.0" y="331.6"/>
<use href="#s" x="160.5" y="380.6"/>
<use href="#s" x="250.9" y="330.7"/>
<use href="#s" x="254.8" y="323.9"/>
<use href="#s" x="113.3" y="415.1"/>
<use href="#s" x="137.3" y="414.0"/>
<use href="#s" x="234.3" y="325.6"/>
<use href="#s" x="234.0" y="345.2"/>
<use href="#s" x="148.9" y="389.1"/>
<use href="#s" x="269.9" y="315.5"/>
<use href="#s" x="232.2" y="346.9"/>
<use href="#s" x="114.2" y="413.6"/>
<use href="#s" x="174.4" y="389.4"/>
<use href="#s" x="236.7" y="322.6"/>
<use href="#s" x="225.3" y="352.4"/>
<use href="#s" x="277.8" y="307.5"/>
<use href="#s" x="195.4" y="360.3"/>
<use href="#s" x="171.4" y="380.3"/>
<use href="#s" x="153.9" y="386.4"/>
<use href="#s" x="141.8" y="395.9"/>
<use href="#s" x="190.1" y="369.6"/>
<use href="#s" x="152.0" y="407.9"/>
<use href="#s" x="126.6" y="406.7"/>
<use href="#s" x="196.2" y="375.5"/>
<use href="#s" x="130.8" y="407.5"/>
<use href="#s" x="237.6" y="344.0"/>
<use href="#s" x="122.6" y="406.2"/>
<use href="#s" x="115.0" y="413.1"/>
<use href="#s" x="135.2" y="407.9"/>
<use href="#s" x="156.2" y="396.4"/>
<use href="#s" x="162.9" y="383.7"/>
<use href="#s" x="282.4" y="300.1"/>
<use href="#s" x="118.2" y="415.8"/>
<use href="#s" x="121.7" y="409.8"/>
<use href="#s" x="175.4" y="377.2"/>
<use href="#s" x="267.8" y="316.4"/>
<use href="#s" x="211.0" y="367.3"/>
<use href="#s" x="143.1" y="393.8"/>
<use href="#s" x="110.8" y="416.7"/>
<use href="#s" x="133.4" y="406.7"/>
<use href="#s" x="253.2" y="335.1"/>
<use href="#s" x="250.1" y="332.5"/>
<use href="#s" x="156.6" y="387.8"/>
<use href="#s" x="163.8" y="393.9"/>
<use href="#s" x="164.0" y="403.9"/>
<use href="#s" x="199.6" y="365.7"/>
<use href="#s" x="248.0" y="333.2"/>
<use href="#s" x="186.3" y="371.5"/>
<use href="#s" x="129.0" y="402.3"/>
<use href="#s" x="222.5" y="336.1"/>
<use href="#s" x="177.0" y="402.2"/>
<use href="#s" x="176.4" y="376.8"/>
<use href="#s" x="229.2" y="327.9"/>
<use href="#s" x="241.6" y="326.9"/>
<use href="#s" x="149.3" y="401.0"/>
<use href="#s" x="158.7" y="393.9"/>
<use href="#s" x="218.3" y="361.1"/>
<use href="#s" x="151.4" y="395.6"/>
<use href="#s" x="199.0" y="357.4"/>
<use href="#s" x="156.1" y="396.6"/>
<use href="#s" x="278.2" y="316.3"/>
<use href="#s" x="276.3" y="305.9"/>
<use href="#s" x="246.3" y="312.3"/>
<use href="#s" x="151.6" y="397.8"/>
<use href="#s" x="274.5" y="305.8"/>
<use href="#s" x="159.5" y="406.4"/>
<use href="#s" x="110.9" y="413.3"/>
<use href="#s" x="118.4" y="411.9"/>
<use href="#s" x="164.4" y="394.1"/>
<use href="#s" x="199.2" y="359.3"/>
<use href="#s" x="122.5" y="406.9"/>
<use href="#s" x="122.2" y="413.2"/>
<use href="#s" x="144.3" y="391.3"/>
<use href="#s" x="185.4" y="376.7"/>
<use href="#s" x="139.9" y="407.2"/>
<use href="#s" x="203.6" y="345.4"/>
<use href="#s" x="170.8" y="372.9"/>
<use href="#s" x="196.6" y="372.4"/>
<use href="#s" x="235.8" y="328.1"/>
<use href="#s" x="120.8" y="414.2"/>
<use href="#s" x="167.9" y="381.9"/>
<use href="#s" x="239.3" y="323.1"/>
<use href="#s" x="239.5" y="321.2"/>
<use href="#s" x="109.4" y="417.2"/>
<use href="#s" x="137.7" y="400.0"/>
<use href="#s" x="261.7" y="318.4"/>
<use href="#s" x="258.4" y="322.6"/>
<use href="#s" x="130.6" y="408.8"/>
<use href="#s" x="159.1" y="402.7"/>
<use href="#s" x="123.8" y="404.3"/>
<use href="#s" x="232.0" y="351.4"/>
<use href="#s" x="206.5" y="342.5"/>
<use href="#s" x="196.3" y="376.9"/>
<use href="#s" x="220.0" y="344.2"/>
<use href="#s" x="134.6" y="405.1"/>
<use href="#s" x="122.4" y="401.8"/>
<use href="#s" x="122.0" y="414.5"/>
<use href="#s" x="150.4" y="404.6"/>
<use href="#s" x="166.0" y="381.9"/>
<use href="#s" x="222.8" y="354.5"/>
<use href="#s" x="273.7" y="293.3"/>
<use href="#s" x="187.6" y="384.3"/>
<use href="#s" x="244.3" y="316.0"/>
<use href="#s" x="220.9" y="348.1"/>
<use href="#s" x="182.9" y="366.7"/>
<use href="#s" x="258.6" y="319.9"/>
<use href="#s" x="117.1" y="412.0"/>
<use href="#s" x="203.8" y="346.1"/>
<use href="#s" x="130.9" y="401.6"/>
<use href="#s" x="167.2" y="387.1"/>
<use href="#s" x="108.5" y="415.9"/>
<use href="#s" x="180.0" y="400.2"/>
<use href="#s" x="113.0" y="412.2"/>
<use href="#s" x="147.6" y="398.4"/>
<use href="#s" x="145.7" y="398.9"/>
<use href="#s" x="282.4" y="277.0"/>
<use href="#s" x="198.5" y="373.0"/>
<use href="#s" x="212.0" y="355.9"/>
<use href="#s" x="162.9" y="388.0"/>
<use href="#s" x="271.6" y="311.6"/>
<use href="#s" x="152.8" y="405.0"/>
<use href="#s" x="212.4" y="346.8"/>
<use href="#s" x="196.6" y="363.2"/>
<use href="#s" x="156.0" y="412.6"/>
<use href="#s" x="183.9" y="372.4"/>
<use href="#s" x="160.5" y="384.9"/>
<use href="#s" x="108.6" y="415.2"/>
<use href="#s" x="200.0" y="355.0"/>
<use href="#s" x="130.8" y="397.9"/>
<use href="#s" x="229.9" y="342.9"/>
<use href="#s" x="271.4" y="307.0"/>
<use href="#s" x="117.6" y="408.9"/>
<use href="#s" x="202.2" y="372.8"/>
<use href="#s" x="174.4" y="402.5"/>
<use href="#s" x="116.0" y="413.9"/>
<use href="#s" x="145.0" y="388.9"/>
<use href="#s" x="130.1" y="401.8"/>
<use href="#s" x="169.3" y="379.6"/>
<use href="#s" x="206.4" y="367.3"/>
<use href="#s" x="231.3" y="351.6"/>
<use href="#s" x="206.0" y="343.7"/>
<use href="#s" x="159.1" y="381.7"/>
<use href="#s" x="133.8" y="407.4"/>
<use href="#s" x="268.5" y="303.0"/>
<use href="#s" x="156.6" y="403.7"/>
<use href="#s" x="220.8" y="342.7"/>
<use href="#s" x="114.6" y="415.2"/>
<use href="#s" x="158.0" y="396.7"/>
<use href="#s" x="205.4" y="348.4"/>
<use href="#s" x="269.0" y="313.5"/>
<use href="#s" x="281.5" y="277.4"/>
<use href="#s" x="157.0" y="382.6"/>
<use href="#s" x="128.8" y="400.2"/>
<use href="#s" x="246.9" y="322.3"/>
<use href="#s" x="194.4" y="367.5"/>
<use href="#s" x="206.1" y="349.9"/>
<use href="#s" x="232.7" y="331.4"/>
<use href="#s" x="239.5" y="326.1"/>
<use href="#s" x="238.8" y="347.4"/>
<use href="#s" x="191.6" y="381.9"/>
<use href="#s" x="125.1" y="397.5"/>
<use href="#s" x="239.1" y="330.7"/>
<use href="#s" x="281.9" y="284.3"/>
<use href="#s" x="110.9" y="413.2"/>
<use href="#s" x="114.9" y="412.6"/>
<use href="#s" x="271.9" y="305.2"/>
<use href="#s" x="127.8" y="400.8"/>
<use href="#s" x="129.7" y="394.6"/>
<use href="#s" x="239.9" y="328.0"/>
<use href="#s" x="212.6" y="348.1"/>
<use href="#s" x="244.3" y="325.4"/>
<use href="#s" x="121.6" y="415.9"/>
<use href="#s" x="115.7" y="411.6"/>
<use href="#s" x="114.9" y="415.6"/>
<use href="#s" x="171.1" y="406.0"/>
<use href="#s" x="139.5" y="398.8"/>
<use href="#s" x="145.8" y="399.3"/>
<use href="#s" x="236.2" y="341.3"/>
<use href="#s" x="151.8" y="411.9"/>
<use href="#s" x="128.9" y="414.7"/>
<use href="#s" x="257.8" y="312.0"/>
<use href="#s" x="149.1" y="391.1"/>
<use href="#s" x="184.7" y="391.7"/>
<use href="#s" x="205.4" y="356.9"/>
<use href="#s" x="201.9" y="372.1"/>
<use href="#s" x="162.4" y="405.8"/>
<use href="#s" x="256.6" y="313.4"/>
<use href="#s" x="151.7" y="380.7"/>
<use href="#s" x="122.1" y="419.2"/>
<use href="#s" x="128.0" y="411.0"/>
<use href="#s" x="120.1" y="407.8"/>
<use href="#s" x="158.8" y="408.2"/>
<use href="#s" x="227.9" y="352.5"/>
<use href="#s" x="141.2" y="409.9"/>
<use href="#s" x="222.8" y="330.9"/>
<use href="#s" x="174.8" y="375.0"/>
<use href="#s" x="110.0" y="415.7"/>
<use href="#s" x="123.4" y="411.7"/>
<use href="#s" x="125.7" y="407.0"/>
<use href="#s" x="127.5" y="413.0"/>
<use href="#s" x="187.4" y="358.6"/>
<use href="#s" x="267.6" y="310.3"/>
<use href="#s" x="138.1" y="415.0"/>
<use href="#s" x="147.5" y="389.5"/>
<use href="#s" x="146.2" y="391.4"/>
<use href="#s" x="170.8" y="392.5"/>
<use href="#s" x="162.8" y="377.8"/>
<use href="#s" x="195.4" y="365.7"/>
<use href="#s" x="222.9" y="362.6"/>
<use href="#s" x="169.2" y="382.9"/>
<use href="#s" x="172.7" y="403.8"/>
<use href="#s" x="171.1" y="378.9"/>
<use href="#s" x="283.7" y="272.9"/>
<use href="#s" x="144.5" y="402.5"/>
<use href="#s" x="165.3" y="384.4"/>
<use href="#s" x="252.6" y="330.8"/>
<use href="#s" x="265.6" y="302.4"/>
<use href="#s" x="214.5" y="352.7"/>
<use href="#s" x="154.7" y="413.9"/>
<use href="#s" x="254.7" y="320.8"/>
<use href="#s" x="204.4" y="373.1"/>
<use href="#s" x="233.1" y="337.1"/>
<use href="#s" x="227.1" y="336.4"/>
<use href="#s" x="220.4" y="343.4"/>
<use href="#s" x="211.2" y="355.6"/>
<use href="#s" x="146.2" y="412.9"/>
<use href="#s" x="182.5" y="386.1"/>
<use href="#s" x="139.1" y="397.1"/>
<use href="#s" x="269.4" y="310.3"/>
<use href="#s" x="246.8" y="317.7"/>
<use href="#s" x="131.3" y="409.4"/>
<use href="#s" x="249.6" y="335.4"/>
<use href="#s" x="257.5" y="303.7"/>
<use href="#s" x="247.6" y="316.0"/>
<use href="#s" x="128.4" y="403.3"/>
<use href="#s" x="244.8" y="328.8"/>
<use href="#s" x="178.8" y="365.8"/>
<use href="#s" x="223.8" y="346.0"/>
<use href="#s" x="183.4" y="389.8"/>
<use href="#s" x="221.0" y="343.8"/>
<use href="#s" x="191.1" y="360.8"/>
<use href="#s" x="166.0" y="377.3"/>
<use href="#s" x="135.8" y="406.9"/>
<use href="#s" x="228.3" y="334.6"/>
<use href="#s" x="156.2" y="389.6"/>
<use href="#s" x="212.6" y="364.0"/>
<use href="#s" x="135.9" y="403.8"/>
<use href="#s" x="164.4" y="376.5"/>
<use href="#s" x="176.9" y="381.4"/>
<use href="#s" x="170.8" y="393.9"/>
<use href="#s" x="246.3" y="320.0"/>
<use href="#s" x="268.9" y="304.9"/>
<use href="#s" x="278.2" y="305.5"/>
<use href="#s" x="157.1" y="385.0"/>
<use href="#s" x="235.6" y="331.5"/>
<use href="#s" x="264.2" y="321.9"/>
<use href="#s" x="110.6" y="413.9"/>
<use href="#s" x="251.9" y="320.2"/>
<use href="#s" x="182.5" y="392.5"/>
<use href="#s" x="189.5" y="380.7"/>
<use href="#s" x="219.1" y="356.9"/>
<use href="#s" x="220.9" y="350.6"/>
<use href="#s" x="238.2" y="343.6"/>
<use href="#s" x="117.2" y="415.6"/>
<use href="#s" x="120.7" y="406.6"/>
<use href="#s" x="114.3" y="412.7"/>
<use href="#s" x="226.9" y="343.4"/>
<use href="#s" x="172.5" y="392.9"/>
<use href="#s" x="283.6" y="300.8"/>
<use href="#s" x="157.9" y="396.2"/>
<use href="#s" x="108.5" y="417.0"/>
<use href="#s" x="154.3" y="391.5"/>
<use href="#s" x="255.8" y="319.8"/>
<use href="#s" x="113.8" y="413.0"/>
<use href="#s" x="257.3" y="328.0"/>
<use href="#s" x="136.0" y="395.4"/>
<use href="#s" x="194.1" y="362.0"/>
<use href="#s" x="202.8" y="354.5"/>
<use href="#s" x="244.4" y="321.0"/>
<use href="#s" x="113.8" y="412.2"/>
<use href="#s" x="193.4" y="364.0"/>
<use href="#s" x="147.6" y="406.6"/>
<use href="#s" x="150.6" y="404.1"/>
<use href="#s" x="179.1" y="397.0"/>
<use href="#s" x="177.3" y="400.0"/>
<use href="#s" x="213.2" y="339.4"/>
<use href="#s" x="256.5" y="306.4"/>
<use href="#s" x="268.4" y="313.3"/>
<use href="#s" x="244.3" y="326.9"/>
<use href="#s" x="151.2" y="387.7"/>
<use href="#s" x="251.7" y="313.0"/>
<use href="#s" x="120.6" y="406.2"/>
<use href="#s" x="241.1" y="343.7"/>
<use href="#s" x="145.0" y="412.6"/>
<use href="#s" x="222.1" y="339.1"/>
<use href="#s" x="112.6" y="416.6"/>
<use href="#s" x="151.0" y="389.2"/>
<use href="#s" x="198.5" y="351.1"/>
<use href="#s" x="266.3" y="309.9"/>
<use href="#s" x="244.0" y="341.3"/>
<use href="#s" x="167.9" y="373.8"/>
<use href="#s" x="139.4" y="406.7"/>
<use href="#s" x="119.5" y="411.0"/>
<use href="#s" x="220.7" y="335.7"/>
<use href="#s" x="249.8" y="317.1"/>
<use href="#s" x="271.8" y="307.8"/>
<use href="#s" x="150.5" y="393.5"/>
<use href="#s" x="269.9" y="298.4"/>
<use href="#s" x="184.5" y="388.3"/>
<use href="#s" x="118.8" y="407.7"/>
<use href="#s" x="147.2" y="410.5"/>
<use href="#s" x="268.8" y="298.6"/>
<use href="#s" x="205.6" y="369.5"/>
<use href="#s" x="216.5" y="341.0"/>
<use href="#s" x="157.7" y="394.9"/>
<use href="#s" x="132.3" y="413.1"/>
<use href="#s" x="151.8" y="385.0"/>
<use href="#s" x="196.8" y="373.1"/>
<use href="#s" x="205.0" y="357.2"/>
<use href="#s" x="120.1" y="413.1"/>
<use href="#s" x="125.1" y="408.1"/>
<use href="#s" x="217.7" y="341.8"/>
<use href="#s" x="130.9" y="412.2"/>
<use href="#s" x="258.6" y="320.0"/>
<use href="#s" x="127.7" y="400.1"/>
<use href="#s" x="186.6" y="373.9"/>
<use href="#s" x="123.0" y="409.8"/>
<use href="#s" x="188.5" y="368.4"/>
<use href="#s" x="135.3" y="403.3"/>
<use href="#s" x="142.1" y="412.2"/>
<use href="#s" x="187.6" y="387.7"/>
<use href="#s" x="185.2" y="386.1"/>
<use href="#s" x="200.3" y="366.8"/>
<use href="#s" x="128.4" y="404.9"/>
<use href="#s" x="111.2" y="413.4"/>
<use href="#s" x="262.0" y="305.3"/>
<use href="#s" x="201.8" y="348.6"/>
<use href="#s" x="226.9" y="327.2"/>
<use href="#s" x="143.0" y="405.7"/>
<use href="#s" x="209.2" y="361.0"/>
<use href="#s" x="247.0" y="321.3"/>
<use href="#s" x="268.1" y="298.1"/>
<use href="#s" x="272.0" y="306.2"/>
<use href="#s" x="142.9" y="408.7"/>
<use href="#s" x="220.7" y="337.9"/>
<use href="#s" x="135.4" y="400.3"/>
<use href="#s" x="157.4" y="413.9"/>
<use href="#s" x="183.6" y="377.7"/>
<use href="#s" x="240.1" y="345.8"/>
<use href="#s" x="135.5" y="405.0"/>
<use href="#s" x="253.2" y="331.8"/>
<use href="#s" x="160.5" y="386.0"/>
<use href="#s" x="277.1" y="308.8"/>
<use href="#s" x="249.7" y="335.2"/>
<use href="#s" x="264.9" y="322.7"/>
<use href="#s" x="204.0" y="352.9"/>
<use href="#s" x="249.1" y="332.8"/>
<use href="#s" x="276.1" y="305.7"/>
<use href="#s" x="273.1" y="299.9"/>
<use href="#s" x="144.1" y="409.9"/>
<use href="#s" x="140.8" y="396.8"/>
<use href="#s" x="186.0" y="388.6"/>
<use href="#s" x="222.0" y="351.9"/>
<use href="#s" x="242.9" y="336.8"/>
<use href="#s" x="272.3" y="317.6"/>
<use href="#s" x="215.7" y="362.3"/>
<use href="#s" x="158.8" y="400.2"/>
<use href="#s" x="108.4" y="413.5"/>
<use href="#s" x="109.6" y="414.9"/>
<use href="#s" x="206.7" y="353.1"/>
<use href="#s" x="158.1" y="385.6"/>
<use href="#s" x="209.4" y="350.1"/>
<use href="#s" x="118.8" y="409.4"/>
<use href="#s" x="217.3" y="358.7"/>
<use href="#s" x="123.5" y="414.3"/>
<use href="#s" x="133.1" y="402.0"/>
<use href="#s" x="275.5" y="302.7"/>
<use href="#s" x="207.7" y="371.4"/>
<use href="#s" x="168.4" y="392.8"/>
<use href="#s" x="281.7" y="282.8"/>
<use href="#s" x="250.2" y="313.5"/>
<use href="#s" x="131.8" y="413.5"/>
<use href="#s" x="179.1" y="394.5"/>
<use href="#s" x="120.6" y="412.9"/>
<use href="#s" x="256.4" y="317.3"/>
<use href="#s" x="262.7" y="323.1"/>
<use href="#s" x="117.1" y="409.9"/>
<use href="#s" x="162.7" y="400.3"/>
<use href="#s" x="211.8" y="347.4"/>
<use href="#s" x="265.3" y="314.3"/>
<use href="#s" x="163.0" y="411.4"/>
<use href="#s" x="221.6" y="350.8"/>
<use href="#s" x="177.9" y="395.5"/>
<use href="#s" x="234.4" y="323.1"/>
<use href="#s" x="156.4" y="389.0"/>
<use href="#s" x="127.0" y="407.5"/>
<use href="#s" x="201.5" y="343.1"/>
<use href="#s" x="213.6" y="347.5"/>
<use href="#s" x="236.8" y="328.4"/>
<use href="#s" x="279.6" y="300.8"/>
<use href="#s" x="245.1" y="329.1"/>
<use href="#s" x="226.6" y="350.4"/>
<use href="#s" x="148.3" y="387.6"/>
<use href="#s" x="242.9" y="324.1"/>
<use href="#s" x="126.3" y="408.0"/>
<use href="#s" x="232.2" y="329.5"/>
<use href="#s" x="154.1" y="384.1"/>
<use href="#s" x="277.3" y="318.9"/>
<use href="#s" x="133.6" y="402.8"/>
<use href="#s" x="155.6" y="395.1"/>
<use href="#s" x="121.7" y="406.2"/>
<use href="#s" x="276.7" y="298.0"/>
<use href="#s" x="136.3" y="409.6"/>
<use href="#s" x="212.8" y="362.8"/>
<use href="#s" x="154.6" y="387.4"/>
<use href="#s" x="198.1" y="366.8"/>
<use href="#s" x="234.9" y="328.7"/>
<use href="#s" x="192.7" y="364.8"/>
<use href="#s" x="211.5" y="346.1"/>
<use href="#s" x="249.4" y="325.1"/>
<use href="#s" x="161.3" y="408.1"/>
<use href="#s" x="116.2" y="414.4"/>
<use href="#s" x="235.1" y="339.5"/>
<use href="#s" x="122.1" y="408.9"/>
<use href="#s" x="214.3" y="365.4"/>
<use href="#s" x="239.2" y="329.5"/>
<use href="#s" x="272.0" y="315.1"/>
<use href="#s" x="245.3" y="323.7"/>
<use href="#s" x="133.4" y="410.2"/>
<use href="#s" x="218.9" y="361.9"/>
<use href="#s" x="125.4" y="406.2"/>
<use href="#s" x="187.7" y="383.4"/>
<use href="#s" x="218.6" y="351.0"/>
<use href="#s" x="147.7" y="409.5"/>
<use href="#s" x="241.9" y="342.4"/>
<use href="#s" x="235.2" y="338.7"/>
<use href="#s" x="263.6" y="326.2"/>
<use href="#s" x="215.0" y="360.9"/>
<use href="#s" x="125.0" y="410.5"/>
<use href="#s" x="147.9" y="386.0"/>
<use href="#s" x="206.4" y="366.4"/>
<use href="#s" x="139.5" y="397.5"/>
<use href="#s" x="220.2" y="364.0"/>
<use href="#s" x="224.7" y="328.9"/>
<use href="#s" x="251.7" y="319.4"/>
<use href="#s" x="126.2" y="403.2"/>
<use href="#s" x="114.8" y="410.7"/>
<use href="#s" x="112.3" y="415.0"/>
<use href="#s" x="122.0" y="405.7"/>
<use href="#s" x="157.4" y="397.7"/>
<use href="#s" x="138.5" y="410.7"/>
<use href="#s" x="245.9" y="329.7"/>
<use href="#s" x="111.2" y="417.7"/>
<use href="#s" x="173.6" y="374.7"/>
<use href="#s" x="211.5" y="359.6"/>
<use href="#s" x="189.5" y="372.2"/>
<use href="#s" x="139.9" y="414.3"/>
<use href="#s" x="276.2" y="300.1"/>
<use href="#s" x="281.2" y="279.2"/>
<use href="#s" x="179.0" y="390.3"/>
<use href="#s" x="226.4" y="340.3"/>
<use href="#s" x="169.9" y="384.0"/>
<use href="#s" x="134.7" y="407.7"/>
<use href="#s" x="135.3" y="408.5"/>
<use href="#s" x="135.1" y="398.4"/>
<use href="#s" x="278.5" y="306.5"/>
<use href="#s" x="273.6" y="319.6"/>
<use href="#s" x="115.3" y="409.3"/>
<use href="#s" x="109.2" y="416.3"/>
<use href="#s" x="146.0" y="394.9"/>
<use href="#s" x="130.0" y="409.7"/>
<use href="#s" x="112.9" y="412.9"/>
<use href="#s" x="161.5" y="407.4"/>
<use href="#s" x="120.8" y="405.1"/>
<use href="#s" x="128.5" y="406.9"/>
<use href="#s" x="266.3" y="322.4"/>
<use href="#s" x="183.0" y="391.5"/>
<use href="#s" x="199.0" y="362.8"/>
<use href="#s" x="137.1" y="402.9"/>
<use href="#s" x="226.7" y="355.7"/>
<use href="#s" x="280.1" y="293.2"/>
<use href="#s" x="246.5" y="333.5"/>
<use href="#s" x="125.4" y="399.7"/>
<use href="#s" x="165.7" y="378.3"/>
<use href="#s" x="250.1" y="331.0"/>
<use href="#s" x="261.7" y="317.7"/>
<use href="#s" x="116.4" y="409.5"/>
<use href="#s" x="184.5" y="379.4"/>
<use href="#s" x="136.6" y="400.9"/>
<use href="#s" x="121.0" y="410.8"/>
<use href="#s" x="124.3" y="401.8"/>
<use href="#s" x="212.7" y="360.3"/>
<use href="#s" x="176.4" y="372.3"/>
<use href="#s" x="182.0" y="375.9"/>
<use href="#s" x="219.6" y="356.3"/>
<use href="#s" x="223.3" y="346.7"/>
<use href="#s" x="126.6" y="413.7"/>
<use href="#s" x="141.9" y="413.7"/>
<use href="#s" x="140.3" y="402.8"/>
<use href="#s" x="212.2" y="358.4"/>
<use href="#s" x="112.1" y="415.7"/>
<use href="#s" x="112.1" y="412.5"/>
<use href="#s" x="142.2" y="413.2"/>
<use href="#s" x="270.0" y="316.8"/>
<use href="#s" x="267.8" y="306.7"/>
<use href="#s" x="235.8" y="325.6"/>
<use href="#s" x="278.6" y="307.1"/>
<use href="#s" x="129.8" y="408.9"/>
<use href="#s" x="121.3" y="416.3"/>
<use href="#s" x="108.2" y="414.7"/>
<use href="#s" x="197.6" y="371.6"/>
<use href="#s" x="204.8" y="366.4"/>
<use href="#s" x="117.3" y="408.0"/>
<use href="#s" x="168.8" y="373.8"/>
<use href="#s" x="233.5" y="326.4"/>
<use href="#s" x="179.7" y="367.3"/>
<use href="#s" x="215.3" y="342.6"/>
<use href="#s" x="279.2" y="298.9"/>
<use href="#s" x="161.1" y="381.9"/>
<use href="#s" x="253.7" y="306.7"/>
<use href="#s" x="163.7" y="387.3"/>
<use href="#s" x="207.0" y="370.5"/>
<use href="#s" x="238.1" y="321.5"/>
<use href="#s" x="223.3" y="348.7"/>
<use href="#s" x="191.0" y="366.4"/>
<use href="#s" x="215.0" y="366.0"/>
<use href="#s" x="231.1" y="350.4"/>
<use href="#s" x="228.0" y="325.6"/>
<use href="#s" x="221.1" y="356.3"/>
<use href="#s" x="132.5" y="414.7"/>
<use href="#s" x="176.8" y="393.2"/>
<use href="#s" x="160.4" y="391.0"/>
<use href="#s" x="119.7" y="413.1"/>
<use href="#s" x="270.3" y="317.3"/>
<use href="#s" x="251.4" y="336.9"/>
<use href="#s" x="143.7" y="399.4"/>
<use href="#s" x="110.1" y="417.0"/>
<use href="#s" x="157.0" y="402.9"/>
<use href="#s" x="239.3" y="346.3"/>
<use href="#s" x="121.2" y="412.4"/>
<use href="#s" x="154.4" y="400.0"/>
<use href="#s" x="277.1" y="293.8"/>
<use href="#s" x="193.0" y="368.9"/>
<use href="#s" x="170.7" y="403.3"/>
<use href="#s" x="222.8" y="361.5"/>
<use href="#s" x="150.0" y="409.3"/>
<use href="#s" x="109.3" y="413.9"/>
<use href="#s" x="131.9" y="400.1"/>
<use href="#s" x="222.3" y="352.9"/>
<use href="#s" x="143.5" y="394.6"/>
<use href="#s" x="110.8" y="416.0"/>
<use href="#s" x="276.8" y="309.8"/>
<use href="#s" x="204.1" y="360.3"/>
<use href="#s" x="152.7" y="383.9"/>
<use href="#s" x="115.8" y="409.6"/>
<use href="#s" x="122.3" y="410.3"/>
<use href="#s" x="277.8" y="306.8"/>
<use href="#s" x="132.2" y="401.1"/>
<use href="#s" x="152.6" y="394.4"/>
<use href="#s" x="230.2" y="327.4"/>
<use href="#s" x="270.4" y="306.5"/>
<use href="#s" x="249.8" y="315.3"/>
<use href="#s" x="255.0" y="328.4"/>
<use href="#s" x="108.9" y="413.7"/>
<use href="#s" x="332.5" y="249.6"/>
<use href="#s" x="318.4" y="258.1"/>
<use href="#s" x="288.3" y="269.2"/>
<use href="#s" x="317.8" y="271.5"/>
<use href="#s" x="292.9" y="266.7"/>
<use href="#s" x="287.5" y="309.2"/>
<use href="#s" x="301.1" y="292.8"/>
<use href="#s" x="294.6" y="279.0"/>
<use href="#s" x="310.3" y="259.3"/>
<use href="#s" x="296.5" y="279.6"/>
<use href="#s" x="324.4" y="257.4"/>
<use href="#s" x="302.3" y="275.4"/>
<use href="#s" x="317.2" y="269.5"/>
<use href="#s" x="318.5" y="278.2"/>
<use href="#s" x="293.6" y="259.4"/>
<use href="#s" x="306.7" y="283.0"/>
<use href="#s" x="285.4" y="269.2"/>
<use href="#s" x="293.4" y="280.4"/>
<use href="#s" x="286.9" y="265.4"/>
<use href="#s" x="334.3" y="266.1"/>
<use href="#s" x="284.1" y="276.4"/>
<use href="#s" x="330.5" y="276.8"/>
<use href="#s" x="329.8" y="254.3"/>
<use href="#s" x="293.9" y="266.1"/>
<use href="#s" x="330.2" y="256.4"/>
<use href="#s" x="333.6" y="262.1"/>
<use href="#s" x="322.4" y="252.7"/>
<use href="#s" x="291.9" y="292.3"/>
<use href="#s" x="301.0" y="264.8"/>
<use href="#s" x="290.4" y="261.0"/>
<use href="#s" x="317.9" y="272.6"/>
<use href="#s" x="322.9" y="266.2"/>
<use href="#s" x="293.6" y="280.4"/>
<use href="#s" x="288.4" y="298.7"/>
<use href="#s" x="334.8" y="271.6"/>
<use href="#s" x="332.4" y="250.5"/>
<use href="#s" x="293.2" y="288.6"/>
<use href="#s" x="292.6" y="260.7"/>
<use href="#s" x="305.5" y="264.6"/>
<use href="#s" x="313.8" y="288.1"/>
<use href="#s" x="303.3" y="293.6"/>
<use href="#s" x="293.5" y="282.3"/>
<use href="#s" x="309.7" y="281.4"/>
<use href="#s" x="316.0" y="261.9"/>
<use href="#s" x="328.4" y="257.9"/>
<use href="#s" x="293.1" y="305.3"/>
<use href="#s" x="298.7" y="274.1"/>
<use href="#s" x="281.3" y="289.6"/>
<use href="#s" x="289.4" y="304.1"/>
<use href="#s" x="295.0" y="280.0"/>
<use href="#s" x="312.6" y="278.9"/>
<use href="#s" x="287.0" y="310.3"/>
<use href="#s" x="288.7" y="265.7"/>
<use href="#s" x="331.4" y="248.2"/>
<use href="#s" x="293.6" y="265.0"/>
<use href="#s" x="303.7" y="296.6"/>
<use href="#s" x="318.4" y="281.2"/>
<use href="#s" x="334.6" y="258.3"/>
<use href="#s" x="283.0" y="311.0"/>
<use href="#s" x="296.8" y="271.5"/>
<use href="#s" x="336.1" y="271.0"/>
<use href="#s" x="329.2" y="275.5"/>
<use href="#s" x="317.9" y="271.3"/>
<use href="#s" x="318.2" y="273.1"/>
<use href="#s" x="326.5" y="276.6"/>
<use href="#s" x="284.4" y="307.6"/>
<use href="#s" x="313.1" y="259.8"/>
<use href="#s" x="293.7" y="274.9"/>
<use href="#s" x="310.4" y="281.6"/>
<use href="#s" x="316.2" y="270.8"/>
<use href="#s" x="319.0" y="279.6"/>
<use href="#s" x="319.3" y="274.4"/>
<use href="#s" x="317.6" y="264.2"/>
<use href="#s" x="293.5" y="278.7"/>
<use href="#s" x="335.6" y="246.7"/>
<use href="#s" x="332.2" y="257.0"/>
<use href="#s" x="322.6" y="259.7"/>
<use href="#s" x="287.4" y="270.6"/>
<use href="#s" x="292.5" y="273.5"/>
<use href="#s" x="303.6" y="276.8"/>
<use href="#s" x="284.5" y="295.8"/>
<use href="#s" x="300.6" y="288.4"/>
<use href="#s" x="305.4" y="264.4"/>
<use href="#s" x="319.2" y="259.4"/>
<use href="#s" x="301.4" y="301.8"/>
<use href="#s" x="317.2" y="269.6"/>
<use href="#s" x="320.9" y="280.6"/>
<use href="#s" x="297.4" y="272.9"/>
<use href="#s" x="327.7" y="270.0"/>
<use href="#s" x="314.2" y="257.3"/>
<use href="#s" x="280.9" y="295.3"/>
<use href="#s" x="284.1" y="264.6"/>
<use href="#s" x="290.0" y="296.0"/>
<use href="#s" x="295.4" y="292.0"/>
<use href="#s" x="337.3" y="248.6"/>
<use href="#s" x="336.3" y="252.6"/>
<use href="#s" x="299.5" y="280.1"/>
<use href="#s" x="307.8" y="267.9"/>
<use href="#s" x="283.2" y="271.4"/>
<use href="#s" x="316.2" y="276.8"/>
<use href="#s" x="107.0" y="415.3"/>
<use href="#s" x="112.8" y="409.9"/>
<use href="#s" x="120.0" y="407.6"/>
<use href="#s" x="125.5" y="395.4"/>
<use href="#s" x="130.3" y="397.2"/>
<use href="#s" x="135.0" y="397.2"/>
<use href="#s" x="141.7" y="392.3"/>
<use href="#s" x="147.3" y="383.5"/>
<use href="#s" x="153.3" y="379.0"/>
<use href="#s" x="159.0" y="382.1"/>
<use href="#s" x="165.6" y="376.1"/>
<use href="#s" x="170.3" y="374.0"/>
<use href="#s" x="177.5" y="370.4"/>
<use href="#s" x="175.7" y="359.4"/>
<use href="#s" x="182.7" y="359.4"/>
<use href="#s" x="187.7" y="356.6"/>
<use href="#s" x="186.4" y="346.7"/>
<use href="#s" x="192.6" y="353.7"/>
<use href="#s" x="192.6" y="345.9"/>
<use href="#s" x="197.9" y="348.2"/>
<use href="#s" x="197.4" y="339.0"/>
<use href="#s" x="202.7" y="342.8"/>
<use href="#s" x="208.4" y="338.0"/>
<use href="#s" x="215.7" y="339.1"/>
<use href="#s" x="220.0" y="335.9"/>
<use href="#s" x="224.2" y="326.5"/>
<use href="#s" x="231.2" y="326.8"/>
<use href="#s" x="233.1" y="319.3"/>
<use href="#s" x="236.2" y="321.5"/>
<use href="#s" x="241.3" y="317.3"/>
<use href="#s" x="248.1" y="310.2"/>
<use href="#s" x="253.7" y="307.6"/>
<use href="#s" x="260.9" y="306.3"/>
<use href="#s" x="262.1" y="294.9"/>
<use href="#s" x="266.3" y="300.2"/>
<use href="#s" x="270.7" y="298.6"/>
<use href="#s" x="269.7" y="288.8"/>
<use href="#s" x="278.1" y="281.3"/>
<use href="#s" x="285.1" y="271.9"/>
<use href="#s" x="283.1" y="266.2"/>
<use href="#s" x="108.0" y="421.7"/>
<use href="#s" x="113.0" y="415.7"/>
<use href="#s" x="117.8" y="416.5"/>
<use href="#s" x="122.6" y="417.0"/>
<use href="#s" x="128.7" y="415.0"/>
<use href="#s" x="135.1" y="419.3"/>
<use href="#s" x="141.5" y="415.0"/>
<use href="#s" x="146.4" y="416.3"/>
<use href="#s" x="151.4" y="415.0"/>
<use href="#s" x="158.1" y="411.0"/>
<use href="#s" x="164.9" y="411.6"/>
<use href="#s" x="170.6" y="408.7"/>
<use href="#s" x="176.0" y="405.1"/>
<use href="#s" x="181.0" y="400.5"/>
<use href="#s" x="185.4" y="396.1"/>
<use href="#s" x="191.2" y="384.6"/>
<use href="#s" x="191.1" y="391.7"/>
<use href="#s" x="197.6" y="377.8"/>
<use href="#s" x="204.3" y="372.2"/>
<use href="#s" x="211.1" y="370.6"/>
<use href="#s" x="216.3" y="366.7"/>
<use href="#s" x="221.4" y="363.6"/>
<use href="#s" x="225.5" y="359.5"/>
<use href="#s" x="225.6" y="367.9"/>
<use href="#s" x="231.8" y="355.0"/>
<use href="#s" x="231.3" y="362.1"/>
<use href="#s" x="238.1" y="349.4"/>
<use href="#s" x="244.8" y="345.0"/>
<use href="#s" x="250.3" y="337.1"/>
<use href="#s" x="256.1" y="332.0"/>
<use href="#s" x="257.8" y="342.2"/>
<use href="#s" x="262.4" y="328.3"/>
<use href="#s" x="267.0" y="329.6"/>
<use href="#s" x="271.7" y="322.1"/>
<use href="#s" x="276.1" y="319.8"/>
<use href="#s" x="280.9" y="312.2"/>
<use href="#s" x="285.1" y="307.0"/>
<use href="#s" x="340.0" y="209.8"/>
<use href="#s" x="346.0" y="221.1"/>
<use href="#s" x="345.0" y="222.3"/>
<use href="#s" x="344.8" y="214.6"/>
<use href="#s" x="348.1" y="217.2"/>
<use href="#s" x="343.3" y="215.4"/>
<use href="#s" x="341.7" y="219.0"/>
<use href="#s" x="355.8" y="222.1"/>
<use href="#s" x="346.3" y="216.8"/>
<use href="#s" x="381.5" y="197.7"/>
<use href="#s" x="365.6" y="199.3"/>
<use href="#s" x="390.2" y="199.8"/>
<use href="#s" x="386.9" y="198.3"/>
<use href="#s" x="393.9" y="210.5"/>
<use href="#s" x="380.6" y="206.0"/>
<use href="#s" x="389.4" y="211.9"/>
<use href="#s" x="368.8" y="206.2"/>
<use href="#s" x="388.4" y="205.6"/>
<use href="#s" x="375.1" y="203.1"/>
<use href="#s" x="371.1" y="212.3"/>
<use href="#s" x="387.1" y="203.6"/>
<use href="#s" x="344.6" y="268.3"/>
<use href="#s" x="386.8" y="234.7"/>
<use href="#s" x="353.3" y="243.2"/>
<use href="#s" x="385.9" y="228.0"/>
<use href="#s" x="395.1" y="214.0"/>
<use href="#s" x="337.1" y="261.5"/>
<use href="#s" x="340.2" y="258.9"/>
<use href="#s" x="392.1" y="225.0"/>
<use href="#s" x="349.2" y="255.6"/>
<use href="#s" x="393.1" y="214.9"/>
<use href="#s" x="345.1" y="246.0"/>
<use href="#s" x="345.4" y="260.3"/>
<use href="#s" x="382.0" y="231.6"/>
<use href="#s" x="356.7" y="249.1"/>
<use href="#s" x="390.0" y="225.6"/>
<use href="#s" x="346.4" y="265.8"/>
<use href="#s" x="377.3" y="232.0"/>
<use href="#s" x="385.3" y="238.8"/>
<use href="#s" x="375.9" y="248.2"/>
<use href="#s" x="339.0" y="257.5"/>
<use href="#s" x="368.5" y="238.3"/>
<use href="#s" x="376.7" y="237.8"/>
<use href="#s" x="358.8" y="253.2"/>
<use href="#s" x="377.7" y="230.2"/>
<use href="#s" x="366.2" y="245.5"/>
<use href="#s" x="392.4" y="218.7"/>
<use href="#s" x="377.8" y="249.3"/>
<use href="#s" x="356.6" y="248.3"/>
<use href="#s" x="357.2" y="238.6"/>
<use href="#s" x="354.5" y="237.9"/>
<use href="#s" x="374.2" y="237.8"/>
<use href="#s" x="388.6" y="223.3"/>
<use href="#s" x="385.3" y="217.3"/>
<use href="#s" x="379.6" y="248.5"/>
<use href="#s" x="353.5" y="246.9"/>
<use href="#s" x="338.9" y="263.9"/>
<use href="#s" x="387.1" y="222.2"/>
<use href="#s" x="390.0" y="220.8"/>
<use href="#s" x="367.9" y="236.3"/>
<use href="#s" x="349.6" y="245.7"/>
<use href="#s" x="391.2" y="210.7"/>
<use href="#s" x="393.1" y="225.1"/>
<use href="#s" x="390.0" y="221.0"/>
<use href="#s" x="365.6" y="227.6"/>
<use href="#s" x="377.1" y="236.3"/>
<use href="#s" x="352.3" y="240.1"/>
<use href="#s" x="176.5" y="241.6"/>
<use href="#s" x="241.0" y="190.8"/>
<use href="#s" x="256.8" y="231.5"/>
<use href="#s" x="277.9" y="180.0"/>
<use href="#s" x="283.2" y="208.8"/>
<use href="#s" x="322.8" y="203.2"/>
<use href="#s" x="336.7" y="191.5"/>
<use href="#s" x="379.1" y="178.8"/>
<use href="#s" x="404.3" y="180.0"/>
<use href="#s" x="429.0" y="172.0"/>
<use href="#s" x="453.9" y="178.3"/>
<use href="#s" x="472.4" y="188.8"/>
<use href="#s" x="472.4" y="204.7"/>
<use href="#s" x="473.6" y="206.5"/>
<use href="#s" x="464.0" y="227.2"/>
<use href="#s" x="465.9" y="229.1"/>
<use href="#s" x="492.0" y="212.8"/>
<use href="#s" x="498.8" y="183.6"/>
<use href="#s" x="510.7" y="178.3"/>
<use href="#s" x="510.7" y="189.6"/>
<use href="#s" x="533.0" y="226.3"/>
<use href="#s" x="551.3" y="189.0"/>
<use href="#s" x="607.9" y="198.2"/>
<use href="#s" x="630.2" y="188.1"/>
<use href="#s" x="651.1" y="198.2"/>
<use href="#s" x="425.5" y="204.2"/>
<use href="#s" x="439.5" y="201.5"/>
<use href="#s" x="427.3" y="223.4"/>
<use href="#s" x="409.8" y="207.7"/>
<use href="#s" x="401.9" y="196.3"/>
<use href="#s" x="392.3" y="238.7"/>
<use href="#s" x="369.5" y="250.7"/>
<use href="#s" x="323.4" y="232.2"/>
<use href="#s" x="332.0" y="230.0"/>
<use href="#s" x="365.6" y="198.9"/>
<use href="#s" x="372.0" y="202.5"/>
<use href="#s" x="387.9" y="199.8"/>
<use href="#s" x="393.1" y="198.0"/>
<use href="#s" x="362.0" y="266.0"/>
<use href="#s" x="344.0" y="269.5"/>
<use href="#s" x="334.3" y="281.5"/>
<use href="#s" x="150.3" y="332.0"/>
<use href="#s" x="163.3" y="345.2"/>
<use href="#s" x="185.6" y="314.0"/>
<use href="#s" x="186.8" y="333.2"/>
<use href="#s" x="210.3" y="320.0"/>
<use href="#s" x="224.4" y="300.8"/>
<use href="#s" x="230.6" y="296.0"/>
<use href="#s" x="156.8" y="364.3"/>
<use href="#s" x="196.4" y="334.4"/>
<use href="#s" x="273.1" y="329.6"/>
<use href="#s" x="104.0" y="418.5"/>
<use href="#s" x="112.5" y="405.2"/>
<use href="#s" x="135.4" y="384.5"/>
</g>
<polygon points="110.0,413.7 113.0,411.9 116.0,409.3 119.0,406.3 122.0,402.0 125.0,397.1 128.0,395.1 131.0,394.3 134.0,393.2 137.0,391.8 140.0,391.4 143.0,387.9 146.0,383.8 149.0,380.6 152.0,378.7 155.0,377.4 158.0,375.4 161.0,374.1 164.0,371.8 167.0,369.0 170.0,367.5 173.0,366.6 176.0,364.9 179.0,360.3 182.0,354.8 185.0,351.0 188.0,350.4 191.0,350.0 194.0,348.0 197.0,343.8 200.0,339.3 203.0,336.6 206.0,334.3 209.0,332.7 212.0,332.0 215.0,331.7 218.0,330.3 221.0,328.4 224.0,322.7 227.0,321.5 230.0,321.4 233.0,320.1 236.0,317.5 239.0,314.7 242.0,311.3 245.0,308.1 248.0,305.5 251.0,303.3 254.0,301.5 257.0,300.0 260.0,299.1 263.0,298.9 266.0,298.8 269.0,297.4 272.0,295.4 275.0,293.1 278.0,286.3 281.0,281.6 284.0,280.8 287.0,279.7 287.0,295.9 284.0,299.5 281.0,306.7 278.0,314.9 275.0,320.3 272.0,323.0 269.0,326.0 266.0,329.6 263.0,333.3 260.0,335.9 257.0,338.0 254.0,340.4 251.0,342.3 248.0,343.3 245.0,346.0 242.0,350.8 239.0,354.3 236.0,355.3 233.0,356.8 230.0,359.1 227.0,361.9 224.0,365.6 221.0,368.9 218.0,371.0 215.0,372.7 212.0,375.0 209.0,377.0 206.0,378.1 203.0,379.7 200.0,382.3 197.0,385.0 194.0,386.6 191.0,388.8 188.0,392.2 185.0,400.2 182.0,405.3 179.0,407.4 176.0,409.5 173.0,411.5 170.0,413.4 167.0,414.6 164.0,414.9 161.0,415.6 158.0,417.1 155.0,417.5 152.0,416.6 149.0,416.4 146.0,417.6 143.0,418.1 140.0,417.4 137.0,417.0 134.0,417.1 131.0,417.5 128.0,418.2 125.0,418.6 122.0,418.0 119.0,417.3 116.0,416.8 113.0,416.7 110.0,417.0" fill="#ec242b"/>
<g>
<use href="#e" x="107.0" y="413.7"/>
<use href="#e" x="112.8" y="409.5"/>
<use href="#e" x="125.5" y="394.7"/>
<use href="#e" x="141.7" y="386.8"/>
<use href="#e" x="147.3" y="379.3"/>
<use href="#e" x="159.0" y="375.8"/>
<use href="#e" x="165.6" y="367.2"/>
<use href="#e" x="170.3" y="367.3"/>
<use href="#e" x="182.7" y="351.9"/>
<use href="#e" x="187.7" y="351.3"/>
<use href="#e" x="192.6" y="346.2"/>
<use href="#e" x="197.9" y="342.2"/>
<use href="#e" x="202.7" y="337.8"/>
<use href="#e" x="208.4" y="332.9"/>
<use href="#e" x="215.7" y="332.6"/>
<use href="#e" x="220.0" y="327.5"/>
<use href="#e" x="224.2" y="323.5"/>
<use href="#e" x="231.2" y="319.9"/>
<use href="#e" x="253.7" y="302.6"/>
<use href="#e" x="260.9" y="298.8"/>
<use href="#e" x="108.0" y="419.8"/>
<use href="#e" x="117.8" y="419.7"/>
<use href="#e" x="122.6" y="421.3"/>
<use href="#e" x="128.7" y="418.1"/>
<use href="#e" x="135.1" y="420.2"/>
<use href="#e" x="141.5" y="420.4"/>
<use href="#e" x="146.4" y="420.5"/>
<use href="#e" x="151.4" y="419.5"/>
<use href="#e" x="164.9" y="414.9"/>
<use href="#e" x="176.0" y="411.1"/>
<use href="#e" x="181.0" y="409.1"/>
<use href="#e" x="191.2" y="390.2"/>
<use href="#e" x="197.6" y="386.2"/>
<use href="#e" x="204.3" y="381.3"/>
<use href="#e" x="211.1" y="375.9"/>
<use href="#e" x="216.3" y="374.9"/>
<use href="#e" x="221.4" y="371.6"/>
<use href="#e" x="225.5" y="366.9"/>
<use href="#e" x="231.8" y="360.3"/>
<use href="#e" x="250.3" y="342.6"/>
<use href="#e" x="280.9" y="317.9"/>
<use href="#d" x="156.1" y="382.4"/>
<use href="#d" x="193.9" y="362.1"/>
<use href="#d" x="114.7" y="413.7"/>
<use href="#d" x="116.2" y="409.2"/>
<use href="#d" x="173.7" y="403.8"/>
<use href="#d" x="211.0" y="374.1"/>
<use href="#d" x="201.5" y="354.9"/>
<use href="#d" x="255.7" y="311.5"/>
<use href="#d" x="127.0" y="397.6"/>
<use href="#d" x="132.6" y="407.5"/>
<use href="#d" x="213.1" y="347.5"/>
<use href="#d" x="114.9" y="411.3"/>
<use href="#d" x="221.0" y="345.6"/>
<use href="#d" x="178.8" y="374.4"/>
<use href="#d" x="243.1" y="337.6"/>
<use href="#d" x="191.9" y="383.5"/>
<use href="#d" x="230.4" y="332.0"/>
<use href="#d" x="172.6" y="401.2"/>
<use href="#d" x="128.2" y="406.3"/>
<use href="#d" x="237.3" y="338.5"/>
<use href="#d" x="259.0" y="310.7"/>
<use href="#d" x="202.1" y="357.1"/>
<use href="#d" x="252.0" y="340.3"/>
<use href="#d" x="115.0" y="415.0"/>
<use href="#d" x="214.7" y="373.2"/>
<use href="#d" x="166.9" y="399.7"/>
<use href="#d" x="110.2" y="415.1"/>
<use href="#d" x="114.8" y="415.5"/>
<use href="#d" x="124.7" y="402.4"/>
<use href="#d" x="117.7" y="411.8"/>
<use href="#d" x="196.4" y="381.1"/>
<use href="#d" x="148.5" y="395.8"/>
<use href="#d" x="162.1" y="410.7"/>
<use href="#d" x="131.9" y="399.1"/>
<use href="#d" x="141.0" y="403.5"/>
<use href="#d" x="108.3" y="415.5"/>
<use href="#d" x="164.0" y="396.3"/>
<use href="#d" x="190.1" y="374.7"/>
<use href="#d" x="220.2" y="330.6"/>
<use href="#d" x="258.8" y="329.5"/>
<use href="#d" x="168.0" y="386.5"/>
<use href="#d" x="115.2" y="410.0"/>
<use href="#d" x="137.0" y="395.5"/>
<use href="#d" x="108.0" y="414.6"/>
<use href="#d" x="120.7" y="408.9"/>
<use href="#d" x="208.5" y="339.1"/>
<use href="#d" x="144.1" y="397.4"/>
<use href="#d" x="253.8" y="340.8"/>
<use href="#d" x="181.1" y="380.4"/>
<use href="#d" x="159.4" y="385.5"/>
<use href="#d" x="249.8" y="310.0"/>
<use href="#d" x="192.5" y="354.5"/>
<use href="#d" x="195.2" y="347.4"/>
<use href="#d" x="256.6" y="326.9"/>
<use href="#d" x="145.6" y="396.4"/>
<use href="#d" x="193.3" y="378.9"/>
<use href="#d" x="157.1" y="384.8"/>
<use href="#d" x="254.5" y="332.8"/>
<use href="#d" x="247.8" y="333.9"/>
<use href="#d" x="161.6" y="374.4"/>
<use href="#d" x="110.9" y="414.0"/>
<use href="#d" x="275.2" y="304.3"/>
<use href="#d" x="271.3" y="328.4"/>
<use href="#d" x="138.9" y="396.9"/>
<use href="#d" x="135.1" y="397.3"/>
<use href="#d" x="252.1" y="321.3"/>
<use href="#d" x="215.8" y="364.3"/>
<use href="#d" x="265.9" y="324.4"/>
<use href="#d" x="234.5" y="336.5"/>
<use href="#d" x="157.6" y="409.4"/>
<use href="#d" x="278.3" y="295.0"/>
<use href="#d" x="229.6" y="327.4"/>
<use href="#d" x="124.4" y="400.7"/>
<use href="#d" x="127.3" y="414.7"/>
<use href="#d" x="280.0" y="302.9"/>
<use href="#d" x="125.0" y="396.8"/>
<use href="#d" x="278.1" y="307.2"/>
<use href="#d" x="175.4" y="404.7"/>
<use href="#d" x="249.3" y="312.3"/>
<use href="#d" x="142.2" y="406.0"/>
<use href="#d" x="145.3" y="398.4"/>
<use href="#d" x="161.3" y="392.9"/>
<use href="#d" x="202.7" y="376.3"/>
<use href="#d" x="187.6" y="373.2"/>
<use href="#d" x="191.6" y="350.0"/>
<use href="#d" x="108.3" y="417.0"/>
<use href="#d" x="131.3" y="405.2"/>
<use href="#d" x="156.5" y="397.8"/>
<use href="#d" x="197.5" y="376.0"/>
<use href="#d" x="143.5" y="395.6"/>
<use href="#d" x="238.7" y="335.0"/>
<use href="#d" x="266.4" y="311.8"/>
<use href="#d" x="208.2" y="355.5"/>
<use href="#d" x="178.7" y="385.8"/>
<use href="#d" x="183.3" y="401.9"/>
<use href="#d" x="272.3" y="299.5"/>
<use href="#d" x="198.3" y="382.3"/>
<use href="#d" x="123.6" y="407.7"/>
<use href="#d" x="116.6" y="410.3"/>
<use href="#d" x="241.0" y="348.7"/>
<use href="#d" x="128.5" y="411.8"/>
<use href="#d" x="260.5" y="334.9"/>
<use href="#d" x="138.8" y="416.5"/>
<use href="#d" x="282.0" y="307.3"/>
<use href="#d" x="129.6" y="404.6"/>
<use href="#d" x="135.0" y="400.3"/>
<use href="#d" x="229.0" y="321.4"/>
<use href="#d" x="109.7" y="414.7"/>
<use href="#d" x="210.3" y="354.8"/>
<use href="#d" x="241.9" y="350.4"/>
<use href="#d" x="121.1" y="406.9"/>
<use href="#d" x="147.1" y="386.6"/>
<use href="#d" x="173.3" y="407.9"/>
<use href="#d" x="127.8" y="416.9"/>
<use href="#d" x="200.3" y="369.3"/>
<use href="#d" x="222.5" y="343.5"/>
<use href="#d" x="116.6" y="416.9"/>
<use href="#d" x="118.2" y="416.1"/>
<use href="#d" x="115.8" y="416.2"/>
<use href="#d" x="197.1" y="382.4"/>
<use href="#d" x="146.7" y="387.0"/>
<use href="#d" x="121.8" y="404.4"/>
<use href="#d" x="113.7" y="412.2"/>
<use href="#d" x="236.3" y="328.0"/>
<use href="#d" x="187.3" y="357.7"/>
<use href="#d" x="143.8" y="386.8"/>
<use href="#d" x="231.2" y="341.8"/>
<use href="#d" x="270.8" y="295.3"/>
<use href="#d" x="247.9" y="321.9"/>
<use href="#d" x="168.1" y="391.5"/>
<use href="#d" x="222.4" y="367.4"/>
<use href="#d" x="226.1" y="348.2"/>
<use href="#d" x="170.2" y="383.2"/>
<use href="#d" x="116.4" y="415.1"/>
<use href="#d" x="144.7" y="390.4"/>
<use href="#d" x="258.1" y="325.0"/>
<use href="#d" x="149.0" y="388.9"/>
<use href="#d" x="129.0" y="405.1"/>
<use href="#d" x="145.9" y="416.8"/>
<use href="#d" x="142.8" y="417.6"/>
<use href="#d" x="153.7" y="391.8"/>
<use href="#d" x="182.7" y="379.3"/>
<use href="#d" x="135.8" y="404.8"/>
<use href="#d" x="119.0" y="410.5"/>
<use href="#d" x="112.6" y="411.8"/>
<use href="#d" x="203.1" y="359.4"/>
<use href="#d" x="234.5" y="343.3"/>
<use href="#d" x="167.5" y="383.3"/>
<use href="#d" x="280.9" y="278.4"/>
<use href="#d" x="112.8" y="416.3"/>
<use href="#d" x="262.3" y="321.1"/>
<use href="#d" x="126.2" y="407.6"/>
<use href="#d" x="188.1" y="385.4"/>
<use href="#d" x="202.8" y="375.7"/>
<use href="#d" x="221.5" y="356.3"/>
<use href="#d" x="125.3" y="404.3"/>
<use href="#d" x="121.2" y="415.8"/>
<use href="#d" x="210.7" y="362.2"/>
<use href="#d" x="185.4" y="350.3"/>
<use href="#d" x="187.9" y="373.0"/>
<use href="#d" x="217.0" y="333.1"/>
<use href="#d" x="116.9" y="410.4"/>
<use href="#d" x="230.4" y="328.8"/>
<use href="#d" x="186.2" y="368.0"/>
<use href="#d" x="183.5" y="387.8"/>
<use href="#d" x="213.9" y="334.5"/>
<use href="#d" x="127.5" y="400.8"/>
<use href="#d" x="199.8" y="339.5"/>
<use href="#d" x="115.0" y="411.7"/>
<use href="#d" x="220.1" y="340.5"/>
<use href="#d" x="190.3" y="368.4"/>
<use href="#d" x="262.7" y="305.2"/>
<use href="#d" x="279.6" y="317.0"/>
<use href="#d" x="248.1" y="342.7"/>
<use href="#d" x="178.2" y="373.8"/>
<use href="#d" x="137.4" y="406.5"/>
<use href="#d" x="126.6" y="407.6"/>
<use href="#d" x="248.1" y="324.7"/>
<use href="#d" x="261.3" y="324.5"/>
<use href="#d" x="184.8" y="351.8"/>
<use href="#d" x="108.3" y="415.8"/>
<use href="#d" x="126.5" y="403.2"/>
<use href="#d" x="154.8" y="411.4"/>
<use href="#d" x="251.8" y="306.9"/>
<use href="#d" x="269.2" y="319.4"/>
<use href="#d" x="164.5" y="388.3"/>
<use href="#d" x="283.8" y="294.2"/>
<use href="#d" x="147.9" y="382.9"/>
<use href="#d" x="120.7" y="415.8"/>
<use href="#d" x="143.6" y="395.1"/>
<use href="#d" x="189.3" y="357.5"/>
<use href="#d" x="260.8" y="328.9"/>
<use href="#d" x="211.6" y="372.1"/>
<use href="#d" x="228.5" y="322.6"/>
<use href="#d" x="231.0" y="338.1"/>
<use href="#d" x="149.8" y="381.0"/>
<use href="#d" x="269.3" y="297.7"/>
<use href="#d" x="151.7" y="406.9"/>
<use href="#d" x="279.2" y="285.8"/>
<use href="#d" x="197.9" y="358.8"/>
<use href="#d" x="130.5" y="397.8"/>
<use href="#d" x="186.8" y="359.9"/>
<use href="#d" x="265.2" y="332.6"/>
<use href="#d" x="134.4" y="394.7"/>
<use href="#d" x="159.2" y="378.2"/>
<use href="#d" x="200.1" y="377.8"/>
<use href="#d" x="234.4" y="334.1"/>
<use href="#d" x="165.3" y="385.3"/>
<use href="#d" x="115.2" y="411.6"/>
<use href="#d" x="187.9" y="377.0"/>
<use href="#d" x="256.5" y="308.1"/>
<use href="#d" x="169.3" y="388.2"/>
<use href="#d" x="274.7" y="321.3"/>
<use href="#d" x="111.4" y="416.0"/>
<use href="#d" x="263.1" y="315.1"/>
<use href="#d" x="167.9" y="411.6"/>
<use href="#d" x="249.2" y="337.8"/>
<use href="#d" x="121.8" y="404.4"/>
<use href="#d" x="191.4" y="376.4"/>
<use href="#d" x="214.7" y="363.5"/>
<use href="#d" x="179.6" y="385.7"/>
<use href="#d" x="140.9" y="416.0"/>
<use href="#d" x="214.4" y="344.1"/>
<use href="#d" x="212.6" y="361.9"/>
<use href="#d" x="122.2" y="402.3"/>
<use href="#d" x="167.3" y="378.7"/>
<use href="#d" x="206.0" y="334.2"/>
<use href="#d" x="275.7" y="312.2"/>
<use href="#d" x="260.7" y="316.2"/>
<use href="#d" x="276.1" y="314.4"/>
<use href="#d" x="153.3" y="378.5"/>
<use href="#d" x="172.9" y="377.9"/>
<use href="#d" x="218.5" y="368.2"/>
<use href="#d" x="158.6" y="392.6"/>
<use href="#d" x="221.4" y="335.8"/>
<use href="#d" x="188.2" y="358.6"/>
<use href="#d" x="277.9" y="292.3"/>
<use href="#d" x="139.1" y="411.4"/>
<use href="#d" x="151.2" y="415.1"/>
<use href="#d" x="139.4" y="402.1"/>
<use href="#d" x="218.1" y="369.3"/>
<use href="#d" x="137.7" y="416.9"/>
<use href="#d" x="126.6" y="396.1"/>
<use href="#d" x="263.6" y="329.8"/>
<use href="#d" x="231.1" y="358.8"/>
<use href="#d" x="133.4" y="416.2"/>
<use href="#d" x="233.7" y="320.1"/>
<use href="#d" x="164.8" y="385.4"/>
<use href="#d" x="130.8" y="393.8"/>
<use href="#d" x="275.0" y="291.1"/>
<use href="#d" x="276.8" y="291.2"/>
<use href="#d" x="248.5" y="321.5"/>
<use href="#d" x="113.5" y="413.9"/>
<use href="#d" x="134.5" y="401.6"/>
<use href="#d" x="263.3" y="298.8"/>
<use href="#d" x="237.7" y="317.0"/>
<use href="#d" x="111.7" y="412.6"/>
<use href="#d" x="233.9" y="352.8"/>
<use href="#d" x="158.7" y="386.1"/>
<use href="#d" x="145.7" y="408.4"/>
<use href="#d" x="154.9" y="388.2"/>
<use href="#d" x="267.2" y="318.1"/>
<use href="#d" x="272.6" y="290.1"/>
<use href="#d" x="275.3" y="325.3"/>
<use href="#d" x="167.0" y="380.2"/>
<use href="#d" x="269.5" y="299.5"/>
<use href="#d" x="244.7" y="336.9"/>
<use href="#d" x="207.2" y="347.9"/>
<use href="#d" x="155.4" y="391.6"/>
<use href="#d" x="135.2" y="411.4"/>
<use href="#d" x="143.3" y="389.0"/>
<use href="#d" x="156.5" y="417.5"/>
<use href="#d" x="260.6" y="335.6"/>
<use href="#d" x="119.9" y="411.3"/>
<use href="#d" x="226.7" y="339.8"/>
<use href="#d" x="209.6" y="362.5"/>
<use href="#d" x="234.0" y="350.8"/>
<use href="#d" x="252.2" y="313.8"/>
<use href="#d" x="199.6" y="355.6"/>
<use href="#d" x="143.3" y="394.7"/>
<use href="#d" x="128.4" y="415.9"/>
<use href="#d" x="168.7" y="414.4"/>
<use href="#d" x="188.6" y="359.5"/>
<use href="#d" x="282.2" y="275.2"/>
<use href="#d" x="182.7" y="395.9"/>
<use href="#d" x="112.4" y="413.4"/>
<use href="#d" x="123.3" y="403.1"/>
<use href="#d" x="269.9" y="306.2"/>
<use href="#d" x="257.2" y="316.9"/>
<use href="#d" x="273.1" y="292.7"/>
<use href="#d" x="205.1" y="362.0"/>
<use href="#d" x="126.6" y="399.8"/>
<use href="#d" x="144.5" y="405.3"/>
<use href="#d" x="109.0" y="414.9"/>
<use href="#d" x="220.6" y="335.8"/>
<use href="#d" x="243.2" y="331.3"/>
<use href="#d" x="115.4" y="410.1"/>
<use href="#d" x="213.2" y="335.2"/>
<use href="#d" x="130.0" y="410.9"/>
<use href="#d" x="153.4" y="415.7"/>
<use href="#d" x="154.2" y="400.3"/>
<use href="#d" x="256.8" y="338.6"/>
<use href="#d" x="163.0" y="380.7"/>
<use href="#d" x="108.5" y="417.4"/>
<use href="#d" x="173.6" y="403.5"/>
<use href="#d" x="180.2" y="365.7"/>
<use href="#d" x="109.4" y="415.7"/>
<use href="#d" x="118.9" y="413.3"/>
<use href="#d" x="164.2" y="393.4"/>
<use href="#d" x="191.2" y="386.2"/>
<use href="#d" x="121.7" y="410.0"/>
<use href="#d" x="135.2" y="395.3"/>
<use href="#d" x="272.5" y="327.4"/>
<use href="#d" x="269.1" y="307.4"/>
<use href="#d" x="264.8" y="319.4"/>
<use href="#d" x="241.4" y="320.5"/>
<use href="#d" x="170.2" y="406.7"/>
<use href="#d" x="138.6" y="401.6"/>
<use href="#d" x="190.6" y="364.9"/>
<use href="#d" x="229.6" y="356.0"/>
<use href="#d" x="112.5" y="414.9"/>
<use href="#d" x="251.7" y="307.0"/>
<use href="#d" x="205.7" y="358.6"/>
<use href="#d" x="172.9" y="392.9"/>
<use href="#d" x="173.9" y="395.9"/>
<use href="#d" x="110.3" y="415.8"/>
<use href="#d" x="185.4" y="361.8"/>
<use href="#d" x="179.8" y="367.3"/>
<use href="#d" x="182.4" y="358.9"/>
<use href="#d" x="119.3" y="410.9"/>
<use href="#d" x="189.2" y="351.4"/>
<use href="#d" x="231.2" y="350.3"/>
<use href="#d" x="189.4" y="351.9"/>
<use href="#d" x="274.1" y="292.7"/>
<use href="#d" x="255.4" y="339.7"/>
<use href="#d" x="134.7" y="417.3"/>
<use href="#d" x="185.8" y="396.6"/>
<use href="#d" x="241.9" y="348.7"/>
<use href="#d" x="115.7" y="411.9"/>
<use href="#d" x="263.2" y="307.8"/>
<use href="#d" x="247.2" y="311.1"/>
<use href="#d" x="137.0" y="398.2"/>
<use href="#d" x="188.4" y="363.3"/>
<use href="#d" x="129.6" y="416.9"/>
<use href="#d" x="220.9" y="365.2"/>
<use href="#d" x="122.6" y="410.1"/>
<use href="#d" x="212.6" y="347.1"/>
<use href="#d" x="202.1" y="375.9"/>
<use href="#d" x="121.1" y="418.2"/>
<use href="#d" x="243.7" y="319.4"/>
<use href="#d" x="282.1" y="296.0"/>
<use href="#d" x="176.9" y="371.2"/>
<use href="#d" x="233.2" y="321.2"/>
<use href="#d" x="213.2" y="374.0"/>
<use href="#d" x="203.2" y="365.3"/>
<use href="#d" x="111.6" y="413.1"/>
<use href="#d" x="208.8" y="351.8"/>
<use href="#d" x="125.1" y="401.4"/>
<use href="#d" x="215.8" y="332.0"/>
<use href="#d" x="121.4" y="408.1"/>
<use href="#d" x="139.5" y="406.6"/>
<use href="#d" x="210.3" y="353.1"/>
<use href="#d" x="125.6" y="417.7"/>
<use href="#d" x="119.9" y="413.2"/>
<use href="#d" x="258.2" y="329.2"/>
<use href="#d" x="109.0" y="416.2"/>
<use href="#d" x="198.8" y="355.7"/>
<use href="#d" x="271.3" y="318.6"/>
<use href="#d" x="143.5" y="415.7"/>
<use href="#d" x="170.4" y="378.0"/>
<use href="#d" x="114.7" y="415.6"/>
<use href="#d" x="272.1" y="295.2"/>
<use href="#d" x="135.6" y="407.6"/>
<use href="#d" x="246.8" y="312.6"/>
<use href="#d" x="153.7" y="389.6"/>
<use href="#d" x="240.8" y="341.5"/>
<use href="#d" x="108.5" y="417.1"/>
<use href="#d" x="232.8" y="336.8"/>
<use href="#d" x="139.8" y="393.7"/>
<use href="#d" x="158.1" y="406.9"/>
<use href="#d" x="223.8" y="359.6"/>
<use href="#d" x="197.2" y="361.4"/>
<use href="#d" x="241.9" y="332.1"/>
<use href="#d" x="277.0" y="291.0"/>
<use href="#d" x="259.9" y="299.0"/>
<use href="#d" x="233.2" y="355.1"/>
<use href="#d" x="233.7" y="331.3"/>
<use href="#d" x="142.0" y="415.7"/>
<use href="#d" x="211.6" y="362.3"/>
<use href="#d" x="181.8" y="397.8"/>
<use href="#d" x="224.3" y="359.5"/>
<use href="#d" x="200.3" y="352.0"/>
<use href="#d" x="137.6" y="407.6"/>
<use href="#d" x="127.0" y="395.4"/>
<use href="#d" x="121.4" y="417.3"/>
<use href="#d" x="111.0" y="412.8"/>
<use href="#d" x="223.4" y="351.1"/>
<use href="#d" x="115.7" y="413.9"/>
<use href="#d" x="162.9" y="407.7"/>
<use href="#d" x="115.7" y="416.3"/>
<use href="#d" x="266.8" y="329.6"/>
<use href="#d" x="122.2" y="401.7"/>
<use href="#d" x="253.5" y="333.8"/>
<use href="#d" x="211.7" y="344.2"/>
<use href="#d" x="120.4" y="405.3"/>
<use href="#d" x="155.3" y="394.2"/>
<use href="#d" x="110.1" y="414.2"/>
<use href="#d" x="163.8" y="385.6"/>
<use href="#d" x="276.7" y="304.4"/>
<use href="#d" x="111.2" y="414.5"/>
<use href="#d" x="175.8" y="399.8"/>
<use href="#d" x="194.3" y="355.9"/>
<use href="#d" x="256.4" y="303.2"/>
<use href="#d" x="108.1" y="414.8"/>
<use href="#d" x="236.8" y="354.8"/>
<use href="#d" x="185.8" y="388.9"/>
<use href="#d" x="133.2" y="405.2"/>
<use href="#d" x="145.5" y="416.4"/>
<use href="#d" x="149.3" y="387.6"/>
<use href="#d" x="121.9" y="412.4"/>
<use href="#d" x="117.8" y="415.4"/>
<use href="#d" x="211.1" y="347.4"/>
<use href="#d" x="169.6" y="385.7"/>
<use href="#d" x="261.6" y="299.0"/>
<use href="#d" x="136.6" y="398.3"/>
<use href="#d" x="165.7" y="410.0"/>
<use href="#d" x="141.1" y="402.8"/>
<use href="#d" x="235.0" y="342.6"/>
<use href="#d" x="160.4" y="387.7"/>
<use href="#d" x="217.5" y="361.0"/>
<use href="#d" x="130.9" y="404.4"/>
<use href="#d" x="124.3" y="407.6"/>
<use href="#d" x="261.0" y="307.2"/>
<use href="#d" x="225.4" y="357.8"/>
<use href="#d" x="128.6" y="398.1"/>
<use href="#d" x="191.4" y="355.7"/>
<use href="#d" x="156.9" y="383.5"/>
<use href="#d" x="120.7" y="417.7"/>
<use href="#d" x="120.7" y="409.2"/>
<use href="#d" x="231.2" y="337.4"/>
<use href="#d" x="135.0" y="408.4"/>
<use href="#d" x="167.3" y="369.7"/>
<use href="#d" x="169.2" y="404.6"/>
<use href="#d" x="211.9" y="351.9"/>
<use href="#d" x="126.6" y="409.5"/>
<use href="#d" x="265.5" y="312.1"/>
<use href="#d" x="200.9" y="371.0"/>
<use href="#d" x="229.1" y="355.7"/>
<use href="#d" x="239.1" y="342.6"/>
<use href="#d" x="213.6" y="350.8"/>
<use href="#d" x="154.3" y="402.8"/>
<use href="#d" x="240.7" y="341.5"/>
<use href="#d" x="211.4" y="342.6"/>
<use href="#d" x="209.9" y="350.3"/>
<use href="#d" x="220.0" y="367.3"/>
<use href="#d" x="239.9" y="329.3"/>
<use href="#d" x="185.5" y="398.4"/>
<use href="#d" x="129.5" y="413.1"/>
<use href="#d" x="272.0" y="309.9"/>
<use href="#d" x="194.8" y="375.4"/>
<use href="#d" x="189.5" y="376.0"/>
<use href="#d" x="171.2" y="410.9"/>
<use href="#d" x="137.3" y="409.3"/>
<use href="#d" x="123.7" y="418.7"/>
<use href="#d" x="161.6" y="375.6"/>
<use href="#d" x="109.2" y="415.2"/>
<use href="#d" x="173.0" y="398.2"/>
<use href="#d" x="139.6" y="410.9"/>
<use href="#d" x="271.9" y="310.3"/>
<use href="#d" x="167.9" y="377.6"/>
<use href="#d" x="124.7" y="414.2"/>
<use href="#d" x="181.7" y="383.6"/>
<use href="#d" x="139.8" y="417.0"/>
<use href="#d" x="247.8" y="336.9"/>
<use href="#d" x="181.5" y="370.2"/>
<use href="#d" x="250.8" y="317.1"/>
<use href="#d" x="254.1" y="311.5"/>
<use href="#d" x="174.0" y="374.2"/>
<use href="#d" x="108.2" y="416.7"/>
<use href="#d" x="152.4" y="396.8"/>
<use href="#d" x="174.4" y="394.6"/>
<use href="#d" x="269.7" y="324.2"/>
<use href="#d" x="114.5" y="416.0"/>
<use href="#d" x="126.4" y="415.1"/>
<use href="#d" x="212.1" y="332.0"/>
<use href="#d" x="216.4" y="341.2"/>
<use href="#d" x="120.7" y="405.7"/>
<use href="#d" x="160.0" y="380.4"/>
<use href="#d" x="264.7" y="325.6"/>
<use href="#d" x="207.4" y="368.3"/>
<use href="#d" x="218.8" y="366.8"/>
<use href="#d" x="135.2" y="409.8"/>
<use href="#d" x="193.0" y="377.6"/>
<use href="#d" x="197.4" y="353.8"/>
<use href="#d" x="141.2" y="393.5"/>
<use href="#d" x="181.3" y="362.8"/>
<use href="#d" x="185.7" y="374.3"/>
<use href="#d" x="108.5" y="417.1"/>
<use href="#d" x="181.5" y="383.9"/>
<use href="#d" x="165.0" y="389.2"/>
<use href="#d" x="276.1" y="287.8"/>
<use href="#d" x="110.9" y="415.6"/>
<use href="#d" x="221.4" y="366.3"/>
<use href="#d" x="189.3" y="369.8"/>
<use href="#d" x="263.4" y="298.9"/>
<use href="#d" x="158.7" y="411.5"/>
<use href="#d" x="163.4" y="392.5"/>
<use href="#d" x="137.4" y="402.6"/>
<use href="#d" x="173.3" y="391.4"/>
<use href="#d" x="249.6" y="319.7"/>
<use href="#d" x="188.0" y="361.5"/>
<use href="#d" x="216.1" y="363.8"/>
<use href="#d" x="157.3" y="388.7"/>
<use href="#d" x="212.4" y="365.8"/>
<use href="#d" x="112.4" y="415.8"/>
<use href="#d" x="113.6" y="412.8"/>
<use href="#d" x="108.5" y="414.6"/>
<use href="#d" x="216.8" y="363.4"/>
<use href="#d" x="265.9" y="318.3"/>
<use href="#d" x="224.1" y="348.3"/>
<use href="#d" x="221.1" y="336.6"/>
<use href="#d" x="236.9" y="320.1"/>
<use href="#d" x="132.7" y="394.1"/>
<use href="#d" x="216.3" y="346.1"/>
<use href="#d" x="248.6" y="335.4"/>
<use href="#d" x="152.4" y="394.6"/>
<use href="#d" x="155.2" y="394.5"/>
<use href="#d" x="114.2" y="414.3"/>
<use href="#d" x="112.3" y="412.5"/>
<use href="#d" x="267.6" y="310.9"/>
<use href="#d" x="109.3" y="415.1"/>
<use href="#d" x="280.1" y="294.3"/>
<use href="#d" x="171.6" y="371.2"/>
<use href="#d" x="128.1" y="394.8"/>
<use href="#d" x="108.4" y="416.5"/>
<use href="#d" x="118.8" y="416.3"/>
<use href="#d" x="124.7" y="397.4"/>
<use href="#d" x="231.2" y="328.0"/>
<use href="#d" x="113.6" y="415.8"/>
<use href="#d" x="230.5" y="324.1"/>
<use href="#d" x="211.2" y="363.2"/>
<use href="#d" x="144.4" y="417.6"/>
<use href="#d" x="228.1" y="321.0"/>
<use href="#d" x="247.6" y="308.3"/>
<use href="#d" x="154.0" y="406.8"/>
<use href="#d" x="184.8" y="353.6"/>
<use href="#d" x="163.7" y="396.8"/>
<use href="#d" x="127.1" y="414.1"/>
<use href="#d" x="162.9" y="400.2"/>
<use href="#d" x="166.9" y="405.2"/>
<use href="#d" x="272.9" y="319.7"/>
<use href="#d" x="115.0" y="417.1"/>
<use href="#d" x="225.4" y="357.0"/>
<use href="#d" x="279.4" y="312.3"/>
<use href="#d" x="206.0" y="347.6"/>
<use href="#d" x="165.3" y="401.1"/>
<use href="#d" x="206.1" y="374.0"/>
<use href="#d" x="108.1" y="415.0"/>
<use href="#d" x="173.3" y="392.9"/>
<use href="#d" x="112.6" y="416.3"/>
<use href="#d" x="246.5" y="339.7"/>
<use href="#d" x="254.2" y="333.1"/>
<use href="#d" x="221.8" y="365.2"/>
<use href="#d" x="197.2" y="376.8"/>
<use href="#d" x="135.7" y="411.2"/>
<use href="#d" x="207.1" y="363.7"/>
<use href="#d" x="181.0" y="366.5"/>
<use href="#d" x="242.5" y="328.7"/>
<use href="#d" x="118.7" y="415.5"/>
<use href="#d" x="202.0" y="376.6"/>
<use href="#d" x="261.0" y="317.9"/>
<use href="#d" x="133.9" y="397.4"/>
<use href="#d" x="132.6" y="410.4"/>
<use href="#d" x="169.8" y="391.4"/>
<use href="#d" x="127.7" y="395.6"/>
<use href="#d" x="121.3" y="412.5"/>
<use href="#d" x="241.7" y="317.4"/>
<use href="#d" x="190.9" y="350.2"/>
<use href="#d" x="111.6" y="417.4"/>
<use href="#d" x="199.7" y="350.6"/>
<use href="#d" x="240.1" y="330.6"/>
<use href="#d" x="247.9" y="342.6"/>
<use href="#d" x="144.4" y="386.6"/>
<use href="#d" x="118.1" y="407.1"/>
<use href="#d" x="197.9" y="379.5"/>
<use href="#d" x="265.9" y="298.7"/>
<use href="#d" x="205.4" y="351.8"/>
<use href="#d" x="144.9" y="403.7"/>
<use href="#d" x="213.5" y="372.6"/>
<use href="#d" x="178.0" y="368.9"/>
<use href="#d" x="277.1" y="325.2"/>
<use href="#d" x="144.7" y="396.7"/>
<use href="#d" x="264.5" y="329.9"/>
<use href="#d" x="241.5" y="340.3"/>
<use href="#d" x="214.6" y="373.0"/>
<use href="#d" x="235.4" y="353.8"/>
<use href="#d" x="220.4" y="340.7"/>
<use href="#d" x="121.2" y="407.7"/>
<use href="#d" x="144.9" y="388.7"/>
<use href="#d" x="141.8" y="392.9"/>
<use href="#d" x="220.5" y="328.7"/>
<use href="#d" x="111.8" y="417.0"/>
<use href="#d" x="138.9" y="416.0"/>
<use href="#d" x="126.3" y="405.8"/>
<use href="#d" x="120.0" y="417.1"/>
<use href="#d" x="178.7" y="376.5"/>
<use href="#d" x="248.7" y="323.2"/>
<use href="#d" x="139.1" y="392.3"/>
<use href="#d" x="227.4" y="343.5"/>
<use href="#d" x="146.4" y="397.2"/>
<use href="#d" x="128.7" y="400.9"/>
<use href="#d" x="130.6" y="405.8"/>
<use href="#d" x="155.1" y="414.1"/>
<use href="#d" x="114.5" y="416.5"/>
<use href="#d" x="218.7" y="338.1"/>
<use href="#d" x="145.0" y="391.2"/>
<use href="#d" x="163.1" y="415.2"/>
<use href="#d" x="120.1" y="408.4"/>
<use href="#d" x="263.2" y="299.9"/>
<use href="#d" x="279.7" y="273.1"/>
<use href="#d" x="245.5" y="320.2"/>
<use href="#d" x="250.5" y="324.1"/>
<use href="#d" x="133.4" y="403.7"/>
<use href="#d" x="200.5" y="344.4"/>
<use href="#d" x="132.5" y="412.2"/>
<use href="#d" x="117.5" y="408.1"/>
<use href="#d" x="207.4" y="355.3"/>
<use href="#d" x="208.1" y="364.6"/>
<use href="#d" x="246.4" y="328.7"/>
<use href="#d" x="231.1" y="336.4"/>
<use href="#d" x="228.9" y="322.9"/>
<use href="#d" x="252.4" y="336.7"/>
<use href="#d" x="186.0" y="350.4"/>
<use href="#d" x="258.4" y="309.1"/>
<use href="#d" x="133.4" y="413.6"/>
<use href="#d" x="164.3" y="397.4"/>
<use href="#d" x="108.4" y="415.9"/>
<use href="#d" x="123.5" y="413.3"/>
<use href="#d" x="247.4" y="339.0"/>
<use href="#d" x="166.1" y="403.8"/>
<use href="#d" x="115.1" y="416.3"/>
<use href="#d" x="189.7" y="371.4"/>
<use href="#d" x="194.2" y="348.1"/>
<use href="#d" x="132.9" y="395.6"/>
<use href="#d" x="143.8" y="412.9"/>
<use href="#d" x="224.6" y="330.4"/>
<use href="#d" x="109.7" y="415.9"/>
<use href="#d" x="225.3" y="326.0"/>
<use href="#d" x="257.9" y="326.9"/>
<use href="#d" x="186.1" y="373.8"/>
<use href="#d" x="148.7" y="384.8"/>
<use href="#d" x="204.3" y="373.2"/>
<use href="#d" x="127.4" y="408.5"/>
<use href="#d" x="249.3" y="341.0"/>
<use href="#d" x="167.4" y="387.9"/>
<use href="#d" x="168.6" y="412.0"/>
<use href="#d" x="239.7" y="327.4"/>
<use href="#d" x="175.7" y="409.5"/>
<use href="#d" x="245.0" y="343.2"/>
<use href="#d" x="114.1" y="414.0"/>
<use href="#d" x="275.5" y="324.4"/>
<use href="#d" x="212.0" y="347.5"/>
<use href="#d" x="193.0" y="351.1"/>
<use href="#d" x="110.1" y="413.7"/>
<use href="#d" x="277.9" y="313.6"/>
<use href="#d" x="246.0" y="340.6"/>
<use href="#d" x="260.9" y="299.6"/>
<use href="#d" x="220.7" y="339.5"/>
<use href="#d" x="195.1" y="383.6"/>
<use href="#d" x="191.0" y="366.7"/>
<use href="#d" x="274.1" y="298.8"/>
<use href="#d" x="123.4" y="410.9"/>
<use href="#d" x="275.1" y="307.2"/>
<use href="#d" x="193.5" y="353.7"/>
<use href="#d" x="123.9" y="400.9"/>
<use href="#d" x="150.1" y="388.0"/>
<use href="#d" x="118.7" y="412.4"/>
<use href="#d" x="200.2" y="367.2"/>
<use href="#d" x="135.8" y="410.2"/>
<use href="#d" x="208.2" y="353.8"/>
<use href="#d" x="153.9" y="387.2"/>
<use href="#d" x="166.4" y="396.1"/>
<use href="#d" x="109.1" y="415.0"/>
<use href="#d" x="197.7" y="363.2"/>
<use href="#d" x="149.5" y="416.3"/>
<use href="#d" x="129.2" y="395.8"/>
<use href="#d" x="258.2" y="315.9"/>
<use href="#d" x="176.4" y="397.6"/>
<use href="#d" x="121.8" y="405.5"/>
<use href="#d" x="128.6" y="402.5"/>
<use href="#d" x="161.0" y="402.3"/>
<use href="#d" x="248.3" y="325.0"/>
<use href="#d" x="232.2" y="348.2"/>
<use href="#d" x="241.2" y="340.6"/>
<use href="#d" x="266.8" y="300.0"/>
<use href="#d" x="237.5" y="338.9"/>
<use href="#d" x="186.9" y="394.0"/>
<use href="#d" x="241.0" y="347.7"/>
<use href="#d" x="207.2" y="350.2"/>
<use href="#d" x="229.2" y="332.3"/>
<use href="#d" x="167.7" y="394.0"/>
<use href="#d" x="241.6" y="345.8"/>
<use href="#d" x="187.2" y="369.8"/>
<use href="#d" x="127.1" y="408.7"/>
<use href="#d" x="202.4" y="340.5"/>
<use href="#d" x="252.7" y="335.4"/>
<use href="#d" x="275.7" y="293.7"/>
<use href="#d" x="109.0" y="413.8"/>
<use href="#d" x="199.3" y="361.6"/>
<use href="#d" x="194.4" y="387.0"/>
<use href="#d" x="190.5" y="370.4"/>
<use href="#d" x="162.0" y="398.4"/>
<use href="#d" x="160.8" y="414.1"/>
<use href="#d" x="120.3" y="409.4"/>
<use href="#d" x="169.5" y="393.6"/>
<use href="#d" x="276.8" y="303.4"/>
<use href="#d" x="176.5" y="392.4"/>
<use href="#d" x="192.8" y="380.6"/>
<use href="#d" x="131.0" y="401.5"/>
<use href="#d" x="189.6" y="354.2"/>
<use href="#d" x="262.8" y="323.2"/>
<use href="#d" x="261.6" y="313.8"/>
<use href="#d" x="128.8" y="401.3"/>
<use href="#d" x="133.8" y="397.3"/>
<use href="#d" x="211.5" y="358.3"/>
<use href="#d" x="212.7" y="333.2"/>
<use href="#d" x="171.4" y="403.3"/>
<use href="#d" x="108.3" y="415.1"/>
<use href="#d" x="252.4" y="325.4"/>
<use href="#d" x="186.9" y="375.2"/>
<use href="#d" x="146.4" y="405.6"/>
<use href="#d" x="201.0" y="355.9"/>
<use href="#d" x="123.6" y="402.0"/>
<use href="#d" x="120.5" y="406.3"/>
<use href="#d" x="191.4" y="381.9"/>
<use href="#d" x="115.2" y="409.6"/>
<use href="#d" x="238.4" y="327.7"/>
<use href="#d" x="130.8" y="400.2"/>
<use href="#d" x="120.4" y="416.8"/>
<use href="#d" x="178.2" y="379.2"/>
<use href="#d" x="114.2" y="416.4"/>
<use href="#d" x="176.4" y="392.3"/>
<use href="#d" x="143.6" y="388.0"/>
<use href="#d" x="154.6" y="413.8"/>
<use href="#d" x="247.3" y="317.3"/>
<use href="#d" x="186.5" y="394.5"/>
<use href="#d" x="142.6" y="399.8"/>
<use href="#d" x="153.6" y="412.6"/>
<use href="#d" x="184.5" y="391.5"/>
<use href="#d" x="162.1" y="380.9"/>
<use href="#d" x="278.3" y="290.2"/>
<use href="#d" x="193.5" y="363.2"/>
<use href="#d" x="169.9" y="370.0"/>
<use href="#d" x="160.8" y="384.0"/>
<use href="#d" x="134.3" y="399.6"/>
<use href="#d" x="218.0" y="344.0"/>
<use href="#d" x="128.8" y="411.5"/>
<use href="#d" x="251.0" y="307.8"/>
<use href="#d" x="177.1" y="401.7"/>
<use href="#d" x="161.1" y="404.3"/>
<use href="#d" x="165.3" y="413.5"/>
<use href="#d" x="188.2" y="359.5"/>
<use href="#d" x="178.7" y="366.4"/>
<use href="#d" x="263.8" y="318.9"/>
<use href="#d" x="163.7" y="382.3"/>
<use href="#d" x="258.4" y="303.5"/>
<use href="#d" x="189.7" y="371.9"/>
<use href="#d" x="166.7" y="399.3"/>
<use href="#d" x="199.8" y="352.7"/>
<use href="#d" x="132.0" y="414.2"/>
<use href="#d" x="155.6" y="404.1"/>
<use href="#d" x="162.6" y="394.1"/>
<use href="#d" x="151.6" y="380.8"/>
<use href="#d" x="124.3" y="413.0"/>
<use href="#d" x="149.1" y="394.8"/>
<use href="#d" x="260.5" y="330.9"/>
<use href="#d" x="125.2" y="402.5"/>
<use href="#d" x="217.8" y="344.5"/>
<use href="#d" x="171.6" y="397.2"/>
<use href="#d" x="253.3" y="315.4"/>
<use href="#d" x="211.2" y="339.6"/>
<use href="#d" x="231.3" y="347.8"/>
<use href="#d" x="112.4" y="412.0"/>
<use href="#d" x="152.6" y="392.9"/>
<use href="#d" x="112.2" y="413.6"/>
<use href="#d" x="251.9" y="325.1"/>
<use href="#d" x="228.0" y="330.9"/>
<use href="#d" x="160.5" y="373.7"/>
<use href="#d" x="250.9" y="333.9"/>
<use href="#d" x="254.8" y="324.7"/>
<use href="#d" x="113.3" y="412.6"/>
<use href="#d" x="137.3" y="415.3"/>
<use href="#d" x="234.3" y="321.7"/>
<use href="#d" x="234.0" y="350.1"/>
<use href="#d" x="148.9" y="383.4"/>
<use href="#d" x="269.9" y="318.0"/>
<use href="#d" x="232.2" y="351.5"/>
<use href="#d" x="114.2" y="415.2"/>
<use href="#d" x="174.4" y="388.9"/>
<use href="#d" x="236.7" y="317.9"/>
<use href="#d" x="225.3" y="356.2"/>
<use href="#d" x="277.8" y="307.4"/>
<use href="#d" x="195.4" y="356.2"/>
<use href="#d" x="171.4" y="375.9"/>
<use href="#d" x="153.9" y="382.9"/>
<use href="#d" x="141.8" y="395.9"/>
<use href="#d" x="190.1" y="367.7"/>
<use href="#d" x="152.0" y="412.7"/>
<use href="#d" x="126.6" y="408.5"/>
<use href="#d" x="196.2" y="376.1"/>
<use href="#d" x="130.8" y="410.0"/>
<use href="#d" x="237.6" y="348.6"/>
<use href="#d" x="122.6" y="405.8"/>
<use href="#d" x="115.0" y="411.8"/>
<use href="#d" x="135.2" y="410.0"/>
<use href="#d" x="156.2" y="395.8"/>
<use href="#d" x="162.9" y="379.5"/>
<use href="#d" x="282.4" y="303.0"/>
<use href="#d" x="118.2" y="414.6"/>
<use href="#d" x="121.7" y="410.0"/>
<use href="#d" x="175.4" y="373.4"/>
<use href="#d" x="267.8" y="317.9"/>
<use href="#d" x="211.0" y="373.5"/>
<use href="#d" x="143.1" y="391.6"/>
<use href="#d" x="110.8" y="416.4"/>
<use href="#d" x="133.4" y="408.7"/>
<use href="#d" x="253.2" y="338.7"/>
<use href="#d" x="250.1" y="332.9"/>
<use href="#d" x="156.6" y="383.5"/>
<use href="#d" x="163.8" y="395.7"/>
<use href="#d" x="164.0" y="408.0"/>
<use href="#d" x="199.6" y="366.9"/>
<use href="#d" x="248.0" y="332.4"/>
<use href="#d" x="186.3" y="373.6"/>
<use href="#d" x="129.0" y="401.5"/>
<use href="#d" x="222.5" y="332.4"/>
<use href="#d" x="177.0" y="407.9"/>
<use href="#d" x="176.4" y="372.5"/>
<use href="#d" x="229.2" y="320.8"/>
<use href="#d" x="241.6" y="328.5"/>
<use href="#d" x="149.3" y="404.3"/>
<use href="#d" x="158.7" y="393.3"/>
<use href="#d" x="218.3" y="364.1"/>
<use href="#d" x="151.4" y="395.5"/>
<use href="#d" x="199.0" y="355.4"/>
<use href="#d" x="156.1" y="395.5"/>
<use href="#d" x="278.2" y="318.9"/>
<use href="#d" x="276.3" y="310.4"/>
<use href="#d" x="246.3" y="308.5"/>
<use href="#d" x="151.6" y="400.4"/>
<use href="#d" x="274.5" y="306.3"/>
<use href="#d" x="159.5" y="412.0"/>
<use href="#d" x="110.9" y="413.6"/>
<use href="#d" x="118.4" y="413.9"/>
<use href="#d" x="164.4" y="396.7"/>
<use href="#d" x="199.2" y="357.1"/>
<use href="#d" x="122.5" y="403.8"/>
<use href="#d" x="122.2" y="416.2"/>
<use href="#d" x="144.3" y="388.7"/>
<use href="#d" x="185.4" y="377.7"/>
<use href="#d" x="139.9" y="406.4"/>
<use href="#d" x="203.6" y="339.0"/>
<use href="#d" x="170.8" y="370.1"/>
<use href="#d" x="196.6" y="373.8"/>
<use href="#d" x="235.8" y="321.5"/>
<use href="#d" x="120.8" y="415.7"/>
<use href="#d" x="167.9" y="375.7"/>
<use href="#d" x="239.3" y="319.5"/>
<use href="#d" x="239.5" y="316.0"/>
<use href="#d" x="109.4" y="415.9"/>
<use href="#d" x="137.7" y="398.9"/>
<use href="#d" x="261.7" y="321.2"/>
<use href="#d" x="258.4" y="320.6"/>
<use href="#d" x="130.6" y="412.0"/>
<use href="#d" x="159.1" y="407.0"/>
<use href="#d" x="123.8" y="406.2"/>
<use href="#d" x="232.0" y="356.2"/>
<use href="#d" x="206.5" y="337.9"/>
<use href="#d" x="196.3" y="377.8"/>
<use href="#d" x="220.0" y="339.1"/>
<use href="#d" x="134.6" y="403.7"/>
<use href="#d" x="122.4" y="401.1"/>
<use href="#d" x="122.0" y="415.2"/>
<use href="#d" x="150.4" y="404.8"/>
<use href="#d" x="166.0" y="376.0"/>
<use href="#d" x="222.8" y="359.5"/>
<use href="#d" x="273.7" y="288.3"/>
<use href="#d" x="187.6" y="388.2"/>
<use href="#d" x="244.3" y="309.7"/>
<use href="#d" x="220.9" y="344.3"/>
<use href="#d" x="182.9" y="360.8"/>
<use href="#d" x="258.6" y="322.4"/>
<use href="#d" x="117.1" y="410.9"/>
<use href="#d" x="203.8" y="337.3"/>
<use href="#d" x="130.9" y="402.5"/>
<use href="#d" x="167.2" y="384.8"/>
<use href="#d" x="108.5" y="416.1"/>
<use href="#d" x="180.0" y="406.6"/>
<use href="#d" x="113.0" y="412.2"/>
<use href="#d" x="147.6" y="399.5"/>
<use href="#d" x="145.7" y="403.3"/>
<use href="#d" x="282.4" y="272.0"/>
<use href="#d" x="198.5" y="374.5"/>
<use href="#d" x="212.0" y="359.4"/>
<use href="#d" x="162.9" y="384.4"/>
<use href="#d" x="271.6" y="316.5"/>
<use href="#d" x="152.8" y="408.0"/>
<use href="#d" x="212.4" y="346.7"/>
<use href="#d" x="196.6" y="360.9"/>
<use href="#d" x="156.0" y="417.9"/>
<use href="#d" x="183.9" y="370.4"/>
<use href="#d" x="160.5" y="379.5"/>
<use href="#d" x="108.6" y="417.2"/>
<use href="#d" x="200.0" y="352.1"/>
<use href="#d" x="130.8" y="395.4"/>
<use href="#d" x="229.9" y="342.3"/>
<use href="#d" x="271.4" y="303.6"/>
<use href="#d" x="117.6" y="408.9"/>
<use href="#d" x="202.2" y="380.5"/>
<use href="#d" x="174.4" y="405.2"/>
<use href="#d" x="116.0" y="412.9"/>
<use href="#d" x="145.0" y="385.1"/>
<use href="#d" x="130.1" y="400.5"/>
<use href="#d" x="169.3" y="376.6"/>
<use href="#d" x="206.4" y="372.4"/>
<use href="#d" x="231.3" y="357.3"/>
<use href="#d" x="206.0" y="337.3"/>
<use href="#d" x="159.1" y="380.2"/>
<use href="#d" x="133.8" y="406.1"/>
<use href="#d" x="268.5" y="301.6"/>
<use href="#d" x="156.6" y="407.6"/>
<use href="#d" x="220.8" y="342.1"/>
<use href="#d" x="114.6" y="413.0"/>
<use href="#d" x="158.0" y="396.0"/>
<use href="#d" x="205.4" y="345.6"/>
<use href="#d" x="269.0" y="314.1"/>
<use href="#d" x="281.5" y="273.7"/>
<use href="#d" x="157.0" y="379.2"/>
<use href="#d" x="128.8" y="397.7"/>
<use href="#d" x="246.9" y="322.2"/>
<use href="#d" x="194.4" y="370.6"/>
<use href="#d" x="206.1" y="348.5"/>
<use href="#d" x="232.7" y="329.5"/>
<use href="#d" x="239.5" y="326.4"/>
<use href="#d" x="238.8" y="354.0"/>
<use href="#d" x="191.6" y="386.5"/>
<use href="#d" x="125.1" y="396.5"/>
<use href="#d" x="239.1" y="328.8"/>
<use href="#d" x="281.9" y="281.0"/>
<use href="#d" x="110.9" y="413.3"/>
<use href="#d" x="114.9" y="413.5"/>
<use href="#d" x="271.9" y="304.1"/>
<use href="#d" x="127.8" y="398.8"/>
<use href="#d" x="129.7" y="394.7"/>
<use href="#d" x="239.9" y="323.3"/>
<use href="#d" x="212.6" y="346.4"/>
<use href="#d" x="244.3" y="326.5"/>
<use href="#d" x="121.6" y="414.1"/>
<use href="#d" x="115.7" y="414.4"/>
<use href="#d" x="114.9" y="414.0"/>
<use href="#d" x="171.1" y="409.6"/>
<use href="#d" x="139.5" y="397.6"/>
<use href="#d" x="145.8" y="398.5"/>
<use href="#d" x="236.2" y="341.9"/>
<use href="#d" x="151.8" y="416.9"/>
<use href="#d" x="128.9" y="415.2"/>
<use href="#d" x="257.8" y="309.4"/>
<use href="#d" x="149.1" y="392.1"/>
<use href="#d" x="184.7" y="396.0"/>
<use href="#d" x="205.4" y="354.4"/>
<use href="#d" x="201.9" y="376.0"/>
<use href="#d" x="162.4" y="406.2"/>
<use href="#d" x="256.6" y="306.7"/>
<use href="#d" x="151.7" y="379.2"/>
<use href="#d" x="122.1" y="418.2"/>
<use href="#d" x="128.0" y="412.4"/>
<use href="#d" x="120.1" y="406.8"/>
<use href="#d" x="158.8" y="413.8"/>
<use href="#d" x="227.9" y="356.5"/>
<use href="#d" x="141.2" y="412.3"/>
<use href="#d" x="222.8" y="326.4"/>
<use href="#d" x="174.8" y="370.0"/>
<use href="#d" x="110.0" y="417.5"/>
<use href="#d" x="123.4" y="408.8"/>
<use href="#d" x="125.7" y="405.6"/>
<use href="#d" x="127.5" y="412.5"/>
<use href="#d" x="187.4" y="354.8"/>
<use href="#d" x="267.6" y="307.3"/>
<use href="#d" x="138.1" y="416.7"/>
<use href="#d" x="147.5" y="387.9"/>
<use href="#d" x="146.2" y="385.4"/>
<use href="#d" x="170.8" y="392.8"/>
<use href="#d" x="162.8" y="372.7"/>
<use href="#d" x="195.4" y="368.2"/>
<use href="#d" x="222.9" y="366.8"/>
<use href="#d" x="169.2" y="382.2"/>
<use href="#d" x="172.7" y="411.1"/>
<use href="#d" x="171.1" y="373.3"/>
<use href="#d" x="283.7" y="269.7"/>
<use href="#d" x="144.5" y="405.7"/>
<use href="#d" x="165.3" y="380.9"/>
<use href="#d" x="252.6" y="333.3"/>
<use href="#d" x="265.6" y="298.3"/>
<use href="#d" x="214.5" y="354.5"/>
<use href="#d" x="154.7" y="416.8"/>
<use href="#d" x="254.7" y="320.9"/>
<use href="#d" x="204.4" y="379.1"/>
<use href="#d" x="233.1" y="333.7"/>
<use href="#d" x="227.1" y="337.2"/>
<use href="#d" x="220.4" y="341.7"/>
<use href="#d" x="211.2" y="355.8"/>
<use href="#d" x="146.2" y="414.9"/>
<use href="#d" x="182.5" y="391.0"/>
<use href="#d" x="139.1" y="394.6"/>
<use href="#d" x="269.4" y="312.4"/>
<use href="#d" x="246.8" y="315.1"/>
<use href="#d" x="131.3" y="413.7"/>
<use href="#d" x="249.6" y="339.2"/>
<use href="#d" x="257.5" y="300.8"/>
<use href="#d" x="247.6" y="310.0"/>
<use href="#d" x="128.4" y="400.5"/>
<use href="#d" x="244.8" y="328.2"/>
<use href="#d" x="178.8" y="364.3"/>
<use href="#d" x="223.8" y="342.2"/>
<use href="#d" x="183.4" y="394.1"/>
<use href="#d" x="221.0" y="343.1"/>
<use href="#d" x="191.1" y="358.8"/>
<use href="#d" x="166.0" y="370.1"/>
<use href="#d" x="135.8" y="406.6"/>
<use href="#d" x="228.3" y="331.7"/>
<use href="#d" x="156.2" y="386.2"/>
<use href="#d" x="212.6" y="369.0"/>
<use href="#d" x="135.9" y="402.7"/>
<use href="#d" x="164.4" y="372.8"/>
<use href="#d" x="176.9" y="380.0"/>
<use href="#d" x="170.8" y="397.1"/>
<use href="#d" x="246.3" y="319.8"/>
<use href="#d" x="268.9" y="300.5"/>
<use href="#d" x="278.2" y="309.8"/>
<use href="#d" x="157.1" y="378.2"/>
<use href="#d" x="235.6" y="332.0"/>
<use href="#d" x="264.2" y="324.8"/>
<use href="#d" x="110.6" y="415.6"/>
<use href="#d" x="251.9" y="318.8"/>
<use href="#d" x="182.5" y="399.8"/>
<use href="#d" x="189.5" y="383.8"/>
<use href="#d" x="219.1" y="360.1"/>
<use href="#d" x="220.9" y="351.0"/>
<use href="#d" x="238.2" y="345.9"/>
<use href="#d" x="117.2" y="415.7"/>
<use href="#d" x="120.7" y="404.8"/>
<use href="#d" x="114.3" y="415.0"/>
<use href="#d" x="226.9" y="341.1"/>
<use href="#d" x="172.5" y="393.2"/>
<use href="#d" x="283.6" y="303.9"/>
<use href="#d" x="157.9" y="397.1"/>
<use href="#d" x="108.5" y="417.7"/>
<use href="#d" x="154.3" y="387.6"/>
<use href="#d" x="255.8" y="322.0"/>
<use href="#d" x="113.8" y="412.8"/>
<use href="#d" x="257.3" y="330.6"/>
<use href="#d" x="136.0" y="393.1"/>
<use href="#d" x="194.1" y="362.3"/>
<use href="#d" x="202.8" y="352.4"/>
<use href="#d" x="244.4" y="316.0"/>
<use href="#d" x="113.8" y="412.8"/>
<use href="#d" x="193.4" y="364.2"/>
<use href="#d" x="147.6" y="410.2"/>
<use href="#d" x="150.6" y="405.7"/>
<use href="#d" x="179.1" y="404.7"/>
<use href="#d" x="177.3" y="403.4"/>
<use href="#d" x="213.2" y="333.4"/>
<use href="#d" x="256.5" y="302.5"/>
<use href="#d" x="268.4" y="314.4"/>
<use href="#d" x="244.3" y="327.9"/>
<use href="#d" x="151.2" y="386.5"/>
<use href="#d" x="251.7" y="308.1"/>
<use href="#d" x="120.6" y="405.1"/>
<use href="#d" x="241.1" y="350.8"/>
<use href="#d" x="145.0" y="415.3"/>
<use href="#d" x="222.1" y="332.8"/>
<use href="#d" x="112.6" y="416.4"/>
<use href="#d" x="151.0" y="387.4"/>
<use href="#d" x="198.5" y="347.5"/>
<use href="#d" x="266.3" y="307.6"/>
<use href="#d" x="244.0" y="347.4"/>
<use href="#d" x="167.9" y="369.2"/>
<use href="#d" x="139.4" y="405.6"/>
<use href="#d" x="119.5" y="411.1"/>
<use href="#d" x="220.7" y="332.8"/>
<use href="#d" x="249.8" y="308.5"/>
<use href="#d" x="271.8" y="310.4"/>
<use href="#d" x="150.5" y="391.9"/>
<use href="#d" x="269.9" y="295.9"/>
<use href="#d" x="184.5" y="395.0"/>
<use href="#d" x="118.8" y="407.5"/>
<use href="#d" x="147.2" y="413.8"/>
<use href="#d" x="268.8" y="294.7"/>
<use href="#d" x="205.6" y="377.4"/>
<use href="#d" x="216.5" y="332.8"/>
<use href="#d" x="157.7" y="394.2"/>
<use href="#d" x="132.3" y="412.6"/>
<use href="#d" x="151.8" y="380.9"/>
<use href="#d" x="196.8" y="376.8"/>
<use href="#d" x="205.0" y="354.9"/>
<use href="#d" x="120.1" y="413.3"/>
<use href="#d" x="125.1" y="409.5"/>
<use href="#d" x="217.7" y="336.8"/>
<use href="#d" x="130.9" y="416.7"/>
<use href="#d" x="258.6" y="317.3"/>
<use href="#d" x="127.7" y="396.8"/>
<use href="#d" x="186.6" y="374.8"/>
<use href="#d" x="123.0" y="408.7"/>
<use href="#d" x="188.5" y="365.3"/>
<use href="#d" x="135.3" y="402.4"/>
<use href="#d" x="142.1" y="414.6"/>
<use href="#d" x="187.6" y="389.0"/>
<use href="#d" x="185.2" y="389.8"/>
<use href="#d" x="200.3" y="368.9"/>
<use href="#d" x="128.4" y="400.8"/>
<use href="#d" x="111.2" y="414.5"/>
<use href="#d" x="262.0" y="301.1"/>
<use href="#d" x="201.8" y="347.4"/>
<use href="#d" x="226.9" y="323.6"/>
<use href="#d" x="143.0" y="406.1"/>
<use href="#d" x="209.2" y="363.4"/>
<use href="#d" x="247.0" y="318.9"/>
<use href="#d" x="268.1" y="294.6"/>
<use href="#d" x="272.0" y="305.8"/>
<use href="#d" x="142.9" y="410.4"/>
<use href="#d" x="220.7" y="334.3"/>
<use href="#d" x="135.4" y="397.6"/>
<use href="#d" x="157.4" y="417.0"/>
<use href="#d" x="183.6" y="377.7"/>
<use href="#d" x="240.1" y="350.6"/>
<use href="#d" x="135.5" y="408.0"/>
<use href="#d" x="253.2" y="333.0"/>
<use href="#d" x="160.5" y="380.6"/>
<use href="#d" x="277.1" y="311.0"/>
<use href="#d" x="249.7" y="340.8"/>
<use href="#d" x="264.9" y="323.8"/>
<use href="#d" x="204.0" y="354.4"/>
<use href="#d" x="249.1" y="335.0"/>
<use href="#d" x="276.1" y="307.0"/>
<use href="#d" x="273.1" y="293.0"/>
<use href="#d" x="144.1" y="413.6"/>
<use href="#d" x="140.8" y="395.5"/>
<use href="#d" x="186.0" y="393.9"/>
<use href="#d" x="222.0" y="356.5"/>
<use href="#d" x="242.9" y="337.2"/>
<use href="#d" x="272.3" y="321.7"/>
<use href="#d" x="215.7" y="365.9"/>
<use href="#d" x="158.8" y="399.9"/>
<use href="#d" x="108.4" y="415.8"/>
<use href="#d" x="109.6" y="413.8"/>
<use href="#d" x="206.7" y="354.0"/>
<use href="#d" x="158.1" y="383.9"/>
<use href="#d" x="209.4" y="345.2"/>
<use href="#d" x="118.8" y="409.1"/>
<use href="#d" x="217.3" y="363.8"/>
<use href="#d" x="123.5" y="412.7"/>
<use href="#d" x="133.1" y="399.7"/>
<use href="#d" x="275.5" y="300.6"/>
<use href="#d" x="207.7" y="373.2"/>
<use href="#d" x="168.4" y="391.1"/>
<use href="#d" x="281.7" y="279.5"/>
<use href="#d" x="250.2" y="309.8"/>
<use href="#d" x="131.8" y="416.5"/>
<use href="#d" x="179.1" y="398.7"/>
<use href="#d" x="120.6" y="411.7"/>
<use href="#d" x="256.4" y="319.9"/>
<use href="#d" x="262.7" y="322.4"/>
<use href="#d" x="117.1" y="413.8"/>
<use href="#d" x="162.7" y="401.0"/>
<use href="#d" x="211.8" y="348.1"/>
<use href="#d" x="265.3" y="314.6"/>
<use href="#d" x="163.0" y="414.6"/>
<use href="#d" x="221.6" y="350.5"/>
<use href="#d" x="177.9" y="397.0"/>
<use href="#d" x="234.4" y="319.7"/>
<use href="#d" x="156.4" y="381.6"/>
<use href="#d" x="127.0" y="409.0"/>
<use href="#d" x="201.5" y="339.4"/>
<use href="#d" x="213.6" y="343.3"/>
<use href="#d" x="236.8" y="327.6"/>
<use href="#d" x="279.6" y="303.3"/>
<use href="#d" x="245.1" y="333.8"/>
<use href="#d" x="226.6" y="350.0"/>
<use href="#d" x="148.3" y="386.6"/>
<use href="#d" x="242.9" y="323.7"/>
<use href="#d" x="126.3" y="407.4"/>
<use href="#d" x="232.2" y="326.6"/>
<use href="#d" x="154.1" y="379.5"/>
<use href="#d" x="277.3" y="323.4"/>
<use href="#d" x="133.6" y="400.5"/>
<use href="#d" x="155.6" y="394.7"/>
<use href="#d" x="121.7" y="406.2"/>
<use href="#d" x="276.7" y="294.2"/>
<use href="#d" x="136.3" y="415.3"/>
<use href="#d" x="212.8" y="365.3"/>
<use href="#d" x="154.6" y="383.3"/>
<use href="#d" x="198.1" y="370.5"/>
<use href="#d" x="234.9" y="328.4"/>
<use href="#d" x="192.7" y="359.9"/>
<use href="#d" x="211.5" y="343.0"/>
<use href="#d" x="249.4" y="326.3"/>
<use href="#d" x="161.3" y="413.5"/>
<use href="#d" x="116.2" y="413.4"/>
<use href="#d" x="235.1" y="343.8"/>
<use href="#d" x="122.1" y="406.6"/>
<use href="#d" x="214.3" y="372.5"/>
<use href="#d" x="239.2" y="330.0"/>
<use href="#d" x="272.0" y="318.6"/>
<use href="#d" x="245.3" y="320.8"/>
<use href="#d" x="133.4" y="414.6"/>
<use href="#d" x="218.9" y="367.0"/>
<use href="#d" x="125.4" y="403.8"/>
<use href="#d" x="187.7" y="387.1"/>
<use href="#d" x="218.6" y="353.6"/>
<use href="#d" x="147.7" y="411.9"/>
<use href="#d" x="241.9" y="344.9"/>
<use href="#d" x="235.2" y="336.9"/>
<use href="#d" x="263.6" y="330.3"/>
<use href="#d" x="215.0" y="368.2"/>
<use href="#d" x="125.0" y="412.4"/>
<use href="#d" x="147.9" y="383.6"/>
<use href="#d" x="206.4" y="370.6"/>
<use href="#d" x="139.5" y="393.3"/>
<use href="#d" x="220.2" y="369.1"/>
<use href="#d" x="224.7" y="325.0"/>
<use href="#d" x="251.7" y="315.3"/>
<use href="#d" x="126.2" y="401.6"/>
<use href="#d" x="114.8" y="413.2"/>
<use href="#d" x="112.3" y="416.4"/>
<use href="#d" x="122.0" y="405.3"/>
<use href="#d" x="157.4" y="399.5"/>
<use href="#d" x="138.5" y="412.1"/>
<use href="#d" x="245.9" y="327.3"/>
<use href="#d" x="111.2" y="416.4"/>
<use href="#d" x="173.6" y="368.7"/>
<use href="#d" x="211.5" y="363.8"/>
<use href="#d" x="189.5" y="374.0"/>
<use href="#d" x="139.9" y="414.4"/>
<use href="#d" x="276.2" y="298.1"/>
<use href="#d" x="281.2" y="274.6"/>
<use href="#d" x="179.0" y="392.7"/>
<use href="#d" x="226.4" y="340.3"/>
<use href="#d" x="169.9" y="380.3"/>
<use href="#d" x="134.7" y="411.0"/>
<use href="#d" x="135.3" y="410.1"/>
<use href="#d" x="135.1" y="398.9"/>
<use href="#d" x="278.5" y="310.6"/>
<use href="#d" x="273.6" y="324.7"/>
<use href="#d" x="115.3" y="411.0"/>
<use href="#d" x="109.2" y="417.1"/>
<use href="#d" x="146.0" y="395.6"/>
<use href="#d" x="130.0" y="409.4"/>
<use href="#d" x="112.9" y="412.5"/>
<use href="#d" x="161.5" y="411.6"/>
<use href="#d" x="120.8" y="405.0"/>
<use href="#d" x="128.5" y="413.3"/>
<use href="#d" x="266.3" y="324.6"/>
<use href="#d" x="183.0" y="395.8"/>
<use href="#d" x="199.0" y="362.4"/>
<use href="#d" x="137.1" y="397.8"/>
<use href="#d" x="226.7" y="360.5"/>
<use href="#d" x="280.1" y="292.5"/>
<use href="#d" x="246.5" y="338.6"/>
<use href="#d" x="125.4" y="396.1"/>
<use href="#d" x="165.7" y="370.1"/>
<use href="#d" x="250.1" y="334.7"/>
<use href="#d" x="261.7" y="318.0"/>
<use href="#d" x="116.4" y="411.3"/>
<use href="#d" x="184.5" y="383.6"/>
<use href="#d" x="136.6" y="397.8"/>
<use href="#d" x="121.0" y="412.0"/>
<use href="#d" x="124.3" y="401.9"/>
<use href="#d" x="212.7" y="362.3"/>
<use href="#d" x="176.4" y="366.8"/>
<use href="#d" x="182.0" y="374.9"/>
<use href="#d" x="219.6" y="358.6"/>
<use href="#d" x="223.3" y="344.2"/>
<use href="#d" x="126.6" y="416.9"/>
<use href="#d" x="141.9" y="418.1"/>
<use href="#d" x="140.3" y="401.3"/>
<use href="#d" x="212.2" y="364.1"/>
<use href="#d" x="112.1" y="412.4"/>
<use href="#d" x="112.1" y="412.2"/>
<use href="#d" x="142.2" y="416.4"/>
<use href="#d" x="270.0" y="316.0"/>
<use href="#d" x="267.8" y="304.1"/>
<use href="#d" x="235.8" y="321.1"/>
<use href="#d" x="278.6" y="308.7"/>
<use href="#d" x="129.8" y="406.5"/>
<use href="#d" x="121.3" y="415.0"/>
<use href="#d" x="108.2" y="417.2"/>
<use href="#d" x="197.6" y="377.6"/>
<use href="#d" x="204.8" y="370.2"/>
<use href="#d" x="117.3" y="407.9"/>
<use href="#d" x="168.8" y="367.6"/>
<use href="#d" x="233.5" y="320.0"/>
<use href="#d" x="179.7" y="364.6"/>
<use href="#d" x="215.3" y="339.8"/>
<use href="#d" x="279.2" y="299.2"/>
<use href="#d" x="161.1" y="377.5"/>
<use href="#d" x="253.7" y="305.2"/>
<use href="#d" x="163.7" y="384.8"/>
<use href="#d" x="207.0" y="377.3"/>
<use href="#d" x="238.1" y="315.2"/>
<use href="#d" x="223.3" y="349.6"/>
<use href="#d" x="191.0" y="367.6"/>
<use href="#d" x="215.0" y="369.8"/>
<use href="#d" x="231.1" y="351.1"/>
<use href="#d" x="228.0" y="321.8"/>
<use href="#d" x="221.1" y="363.1"/>
<use href="#d" x="132.5" y="416.4"/>
<use href="#d" x="176.8" y="395.9"/>
<use href="#d" x="160.4" y="387.6"/>
<use href="#d" x="119.7" y="410.7"/>
<use href="#d" x="270.3" y="320.3"/>
<use href="#d" x="251.4" y="342.5"/>
<use href="#d" x="143.7" y="399.8"/>
<use href="#d" x="110.1" y="414.1"/>
<use href="#d" x="157.0" y="408.4"/>
<use href="#d" x="239.3" y="350.3"/>
<use href="#d" x="121.2" y="415.6"/>
<use href="#d" x="154.4" y="402.7"/>
<use href="#d" x="277.1" y="288.2"/>
<use href="#d" x="193.0" y="374.0"/>
<use href="#d" x="170.7" y="409.6"/>
<use href="#d" x="222.8" y="366.2"/>
<use href="#d" x="150.0" y="413.1"/>
<use href="#d" x="109.3" y="414.6"/>
<use href="#d" x="131.9" y="404.2"/>
<use href="#d" x="222.3" y="355.2"/>
<use href="#d" x="143.5" y="395.0"/>
<use href="#d" x="110.8" y="416.0"/>
<use href="#d" x="276.8" y="310.4"/>
<use href="#d" x="204.1" y="364.1"/>
<use href="#d" x="152.7" y="380.4"/>
<use href="#d" x="115.8" y="408.9"/>
<use href="#d" x="122.3" y="409.7"/>
<use href="#d" x="277.8" y="309.6"/>
<use href="#d" x="132.2" y="395.8"/>
<use href="#d" x="152.6" y="394.0"/>
<use href="#d" x="230.2" y="324.5"/>
<use href="#d" x="270.4" y="304.7"/>
<use href="#d" x="249.8" y="312.6"/>
<use href="#d" x="255.0" y="332.3"/>
<use href="#d" x="108.9" y="414.4"/>
<use href="#d" x="332.5" y="251.7"/>
<use href="#d" x="318.4" y="261.0"/>
<use href="#d" x="288.3" y="267.5"/>
<use href="#d" x="317.8" y="272.2"/>
<use href="#d" x="292.9" y="263.0"/>
<use href="#d" x="287.5" y="309.3"/>
<use href="#d" x="301.1" y="290.8"/>
<use href="#d" x="294.6" y="276.5"/>
<use href="#d" x="310.3" y="259.8"/>
<use href="#d" x="296.5" y="276.2"/>
<use href="#d" x="324.4" y="257.4"/>
<use href="#d" x="302.3" y="274.4"/>
<use href="#d" x="317.2" y="269.5"/>
<use href="#d" x="318.5" y="279.3"/>
<use href="#d" x="293.6" y="260.9"/>
<use href="#d" x="306.7" y="283.1"/>
<use href="#d" x="285.4" y="271.0"/>
<use href="#d" x="293.4" y="280.7"/>
<use href="#d" x="286.9" y="267.5"/>
<use href="#d" x="334.3" y="264.7"/>
<use href="#d" x="284.1" y="277.0"/>
<use href="#d" x="330.5" y="280.1"/>
<use href="#d" x="329.8" y="252.3"/>
<use href="#d" x="293.9" y="267.5"/>
<use href="#d" x="330.2" y="255.4"/>
<use href="#d" x="333.6" y="261.7"/>
<use href="#d" x="322.4" y="255.0"/>
<use href="#d" x="291.9" y="292.2"/>
<use href="#d" x="301.0" y="262.8"/>
<use href="#d" x="290.4" y="261.7"/>
<use href="#d" x="317.9" y="270.6"/>
<use href="#d" x="322.9" y="266.3"/>
<use href="#d" x="293.6" y="283.4"/>
<use href="#d" x="288.4" y="301.1"/>
<use href="#d" x="334.8" y="270.8"/>
<use href="#d" x="332.4" y="252.6"/>
<use href="#d" x="293.2" y="288.4"/>
<use href="#d" x="292.6" y="261.8"/>
<use href="#d" x="305.5" y="263.8"/>
<use href="#d" x="313.8" y="285.2"/>
<use href="#d" x="303.3" y="288.8"/>
<use href="#d" x="293.5" y="282.4"/>
<use href="#d" x="309.7" y="288.7"/>
<use href="#d" x="316.0" y="262.1"/>
<use href="#d" x="328.4" y="256.0"/>
<use href="#d" x="293.1" y="305.8"/>
<use href="#d" x="298.7" y="276.4"/>
<use href="#d" x="281.3" y="287.4"/>
<use href="#d" x="289.4" y="301.6"/>
<use href="#d" x="295.0" y="280.5"/>
<use href="#d" x="312.6" y="278.4"/>
<use href="#d" x="287.0" y="309.6"/>
<use href="#d" x="288.7" y="269.1"/>
<use href="#d" x="331.4" y="249.1"/>
<use href="#d" x="293.6" y="267.5"/>
<use href="#d" x="303.7" y="298.3"/>
<use href="#d" x="318.4" y="280.1"/>
<use href="#d" x="334.6" y="259.2"/>
<use href="#d" x="283.0" y="311.2"/>
<use href="#d" x="296.8" y="271.7"/>
<use href="#d" x="336.1" y="273.9"/>
<use href="#d" x="329.2" y="274.7"/>
<use href="#d" x="317.9" y="270.6"/>
<use href="#d" x="318.2" y="272.5"/>
<use href="#d" x="326.5" y="275.7"/>
<use href="#d" x="284.4" y="308.5"/>
<use href="#d" x="313.1" y="260.9"/>
<use href="#d" x="293.7" y="277.0"/>
<use href="#d" x="310.4" y="278.9"/>
<use href="#d" x="316.2" y="269.7"/>
<use href="#d" x="319.0" y="277.6"/>
<use href="#d" x="319.3" y="274.8"/>
<use href="#d" x="317.6" y="261.0"/>
<use href="#d" x="293.5" y="280.2"/>
<use href="#d" x="335.6" y="251.9"/>
<use href="#d" x="332.2" y="254.5"/>
<use href="#d" x="322.6" y="262.1"/>
<use href="#d" x="287.4" y="274.4"/>
<use href="#d" x="292.5" y="272.9"/>
<use href="#d" x="303.6" y="277.0"/>
<use href="#d" x="284.5" y="293.6"/>
<use href="#d" x="300.6" y="289.9"/>
<use href="#d" x="305.4" y="265.3"/>
<use href="#d" x="319.2" y="259.8"/>
<use href="#d" x="301.4" y="301.9"/>
<use href="#d" x="317.2" y="274.3"/>
<use href="#d" x="320.9" y="279.8"/>
<use href="#d" x="297.4" y="269.9"/>
<use href="#d" x="327.7" y="267.8"/>
<use href="#d" x="314.2" y="261.5"/>
<use href="#d" x="280.9" y="296.1"/>
<use href="#d" x="284.1" y="266.9"/>
<use href="#d" x="290.0" y="294.9"/>
<use href="#d" x="295.4" y="292.4"/>
<use href="#d" x="337.3" y="245.3"/>
<use href="#d" x="336.3" y="249.7"/>
<use href="#d" x="299.5" y="281.5"/>
<use href="#d" x="307.8" y="266.3"/>
<use href="#d" x="283.2" y="271.4"/>
<use href="#d" x="316.2" y="276.5"/>
<use href="#d" x="120.0" y="406.2"/>
<use href="#d" x="130.3" y="391.4"/>
<use href="#d" x="135.0" y="392.6"/>
<use href="#d" x="153.3" y="375.1"/>
<use href="#d" x="177.5" y="360.0"/>
<use href="#d" x="236.2" y="314.7"/>
<use href="#d" x="241.3" y="312.9"/>
<use href="#d" x="248.1" y="303.8"/>
<use href="#d" x="266.3" y="294.0"/>
<use href="#d" x="270.7" y="293.0"/>
<use href="#d" x="278.1" y="275.3"/>
<use href="#d" x="285.1" y="266.3"/>
<use href="#d" x="113.0" y="419.3"/>
<use href="#d" x="158.1" y="420.2"/>
<use href="#d" x="170.6" y="414.7"/>
<use href="#d" x="185.4" y="402.4"/>
<use href="#d" x="238.1" y="357.7"/>
<use href="#d" x="244.8" y="349.4"/>
<use href="#d" x="256.1" y="340.3"/>
<use href="#d" x="262.4" y="334.3"/>
<use href="#d" x="267.0" y="333.9"/>
<use href="#d" x="271.7" y="329.7"/>
<use href="#d" x="276.1" y="327.9"/>
<use href="#d" x="285.1" y="312.8"/>
<use href="#d" x="340.0" y="211.0"/>
<use href="#d" x="346.0" y="220.7"/>
<use href="#d" x="345.0" y="218.8"/>
<use href="#d" x="344.8" y="214.4"/>
<use href="#d" x="348.1" y="216.4"/>
<use href="#d" x="343.3" y="217.0"/>
<use href="#d" x="341.7" y="216.6"/>
<use href="#d" x="355.8" y="224.7"/>
<use href="#d" x="346.3" y="218.7"/>
<use href="#d" x="381.5" y="200.4"/>
<use href="#d" x="365.6" y="197.9"/>
<use href="#d" x="390.2" y="202.4"/>
<use href="#d" x="386.9" y="204.8"/>
<use href="#d" x="393.9" y="206.4"/>
<use href="#d" x="380.6" y="205.7"/>
<use href="#d" x="389.4" y="208.9"/>
<use href="#d" x="368.8" y="208.4"/>
<use href="#d" x="388.4" y="207.9"/>
<use href="#d" x="375.1" y="206.9"/>
<use href="#d" x="371.1" y="211.2"/>
<use href="#d" x="387.1" y="201.4"/>
<use href="#d" x="344.6" y="265.8"/>
<use href="#d" x="386.8" y="235.7"/>
<use href="#d" x="353.3" y="240.9"/>
<use href="#d" x="385.9" y="228.1"/>
<use href="#d" x="395.1" y="214.6"/>
<use href="#d" x="337.1" y="259.0"/>
<use href="#d" x="340.2" y="259.7"/>
<use href="#d" x="392.1" y="225.7"/>
<use href="#d" x="349.2" y="254.9"/>
<use href="#d" x="393.1" y="214.0"/>
<use href="#d" x="345.1" y="242.8"/>
<use href="#d" x="345.4" y="261.4"/>
<use href="#d" x="382.0" y="234.4"/>
<use href="#d" x="356.7" y="252.1"/>
<use href="#d" x="390.0" y="228.1"/>
<use href="#d" x="346.4" y="265.0"/>
<use href="#d" x="377.3" y="236.0"/>
<use href="#d" x="385.3" y="242.6"/>
<use href="#d" x="375.9" y="249.9"/>
<use href="#d" x="339.0" y="258.1"/>
<use href="#d" x="368.5" y="239.3"/>
<use href="#d" x="376.7" y="239.5"/>
<use href="#d" x="358.8" y="252.9"/>
<use href="#d" x="377.7" y="228.7"/>
<use href="#d" x="366.2" y="244.7"/>
<use href="#d" x="392.4" y="219.4"/>
<use href="#d" x="377.8" y="246.9"/>
<use href="#d" x="356.6" y="248.8"/>
<use href="#d" x="357.2" y="244.3"/>
<use href="#d" x="354.5" y="240.0"/>
<use href="#d" x="374.2" y="235.3"/>
<use href="#d" x="388.6" y="226.5"/>
<use href="#d" x="385.3" y="220.4"/>
<use href="#d" x="379.6" y="249.1"/>
<use href="#d" x="353.5" y="248.8"/>
<use href="#d" x="338.9" y="261.4"/>
<use href="#d" x="387.1" y="226.2"/>
<use href="#d" x="390.0" y="223.9"/>
<use href="#d" x="367.9" y="235.9"/>
<use href="#d" x="349.6" y="246.0"/>
<use href="#d" x="391.2" y="212.2"/>
<use href="#d" x="393.1" y="221.5"/>
<use href="#d" x="390.0" y="221.5"/>
<use href="#d" x="365.6" y="227.3"/>
<use href="#d" x="377.1" y="238.3"/>
<use href="#d" x="352.3" y="240.8"/>
<use href="#d" x="176.5" y="248.8"/>
<use href="#d" x="241.0" y="208.8"/>
<use href="#d" x="256.8" y="224.8"/>
<use href="#d" x="277.9" y="165.1"/>
<use href="#d" x="283.2" y="216.0"/>
<use href="#d" x="322.8" y="216.0"/>
<use href="#d" x="336.7" y="210.0"/>
<use href="#d" x="379.1" y="195.6"/>
<use href="#d" x="404.3" y="168.0"/>
<use href="#d" x="429.0" y="166.3"/>
<use href="#d" x="453.9" y="178.3"/>
<use href="#d" x="472.4" y="213.5"/>
<use href="#d" x="472.4" y="218.3"/>
<use href="#d" x="464.0" y="214.7"/>
<use href="#d" x="465.9" y="247.8"/>
<use href="#d" x="492.0" y="212.8"/>
<use href="#d" x="498.8" y="189.6"/>
<use href="#d" x="510.7" y="184.8"/>
<use href="#d" x="510.7" y="206.4"/>
<use href="#d" x="533.0" y="237.5"/>
<use href="#d" x="551.3" y="219.0"/>
<use href="#d" x="607.9" y="210.0"/>
<use href="#d" x="630.2" y="206.1"/>
<use href="#d" x="651.1" y="218.1"/>
<use href="#d" x="425.5" y="212.0"/>
<use href="#d" x="426.6" y="214.9"/>
<use href="#d" x="439.5" y="211.2"/>
<use href="#d" x="440.6" y="215.0"/>
<use href="#d" x="409.8" y="230.4"/>
<use href="#d" x="402.8" y="205.0"/>
<use href="#d" x="406.3" y="213.8"/>
<use href="#d" x="408.0" y="222.5"/>
<use href="#d" x="401.9" y="196.3"/>
<use href="#d" x="383.9" y="250.4"/>
<use href="#d" x="323.4" y="232.2"/>
<use href="#d" x="332.0" y="230.0"/>
<use href="#d" x="365.6" y="196.2"/>
<use href="#d" x="362.0" y="266.0"/>
<use href="#d" x="150.3" y="353.5"/>
<use href="#d" x="185.6" y="317.6"/>
<use href="#d" x="196.4" y="334.4"/>
<use href="#d" x="273.1" y="329.6"/>
<use href="#d" x="220.3" y="375.1"/>
<use href="#d" x="231.1" y="365.5"/>
<use href="#d" x="104.0" y="418.5"/>
<use href="#d" x="135.4" y="382.5"/>
</g>
<path d="M104.2 436.3L600.0 48.4" stroke="#151515" stroke-width="1.25"/>
<rect x="85.0" y="6.0" width="570.8" height="444.7" fill="none" stroke="#4a4a4a" stroke-width="1.3"/>
<path d="M85.0 450.7v-5.7M85.0 6.0v5.7M85.0 450.7h5.7M655.8 450.7h-5.7M199.2 450.7v-5.7M199.2 6.0v5.7M85.0 361.8h5.7M655.8 361.8h-5.7M313.3 450.7v-5.7M313.3 6.0v5.7M85.0 272.8h5.7M655.8 272.8h-5.7M427.5 450.7v-5.7M427.5 6.0v5.7M85.0 183.9h5.7M655.8 183.9h-5.7M541.6 450.7v-5.7M541.6 6.0v5.7M85.0 94.9h5.7M655.8 94.9h-5.7M655.8 450.7v-5.7M655.8 6.0v5.7M85.0 6.0h5.7M655.8 6.0h-5.7" stroke="#4a4a4a" stroke-width="1.3" fill="none"/>
<g font-family="'Liberation Sans', Arial, Helvetica, sans-serif" fill="#1c1c1c" stroke="#1c1c1c" stroke-width="0.3">
<text transform="translate(68.47 473.00) scale(1.0000 1)" font-size="17">0.05</text>
<text transform="translate(42.41 456.70) scale(1.0000 1)" font-size="17">0.05</text>
<text transform="translate(187.41 473.00) scale(1.0000 1)" font-size="17">0.1</text>
<text transform="translate(51.98 367.76) scale(1.0000 1)" font-size="17">0.1</text>
<text transform="translate(296.79 473.00) scale(1.0000 1)" font-size="17">0.15</text>
<text transform="translate(42.41 278.82) scale(1.0000 1)" font-size="17">0.15</text>
<text transform="translate(415.75 473.00) scale(1.0000 1)" font-size="17">0.2</text>
<text transform="translate(52.02 189.88) scale(1.0000 1)" font-size="17">0.2</text>
<text transform="translate(525.11 473.00) scale(1.0000 1)" font-size="17">0.25</text>
<text transform="translate(42.41 100.94) scale(1.0000 1)" font-size="17">0.25</text>
<text transform="translate(644.01 473.00) scale(1.0000 1)" font-size="17">0.3</text>
<text transform="translate(51.89 12.00) scale(1.0000 1)" font-size="17">0.3</text>
<text transform="translate(311.62 506.50) scale(1.0318 1)" font-size="19">C</text>
<text transform="translate(326.54 514.40) scale(1.0006 1)" font-size="14">D</text>
<text transform="translate(342.25 506.50) scale(1.0502 1)" font-size="19">measured</text>
<text transform="translate(14.10 285.95) rotate(-90) scale(1.1067 1)" font-size="19">C</text>
<text transform="translate(23.20 269.56) rotate(-90) scale(1.0006 1)" font-size="14">D</text>
<text transform="translate(14.10 252.78) rotate(-90) scale(1.0328 1)" font-size="19">predicted</text>
<rect x="481" y="23.3" width="158" height="47.7" fill="#fff" stroke="#3c3c3c" stroke-width="1.4"/>
<use href="#s" x="505.3" y="36.9"/>
<use href="#d" x="505.3" y="57.7"/>
<text transform="translate(521.01 41.40) scale(1.0011 1)" font-size="15.7">GPR predicted</text>
<text transform="translate(520.50 63.00) scale(1.0062 1)" font-size="15.7">MLE Predicted</text>
</g>
</svg>
</body></html>
